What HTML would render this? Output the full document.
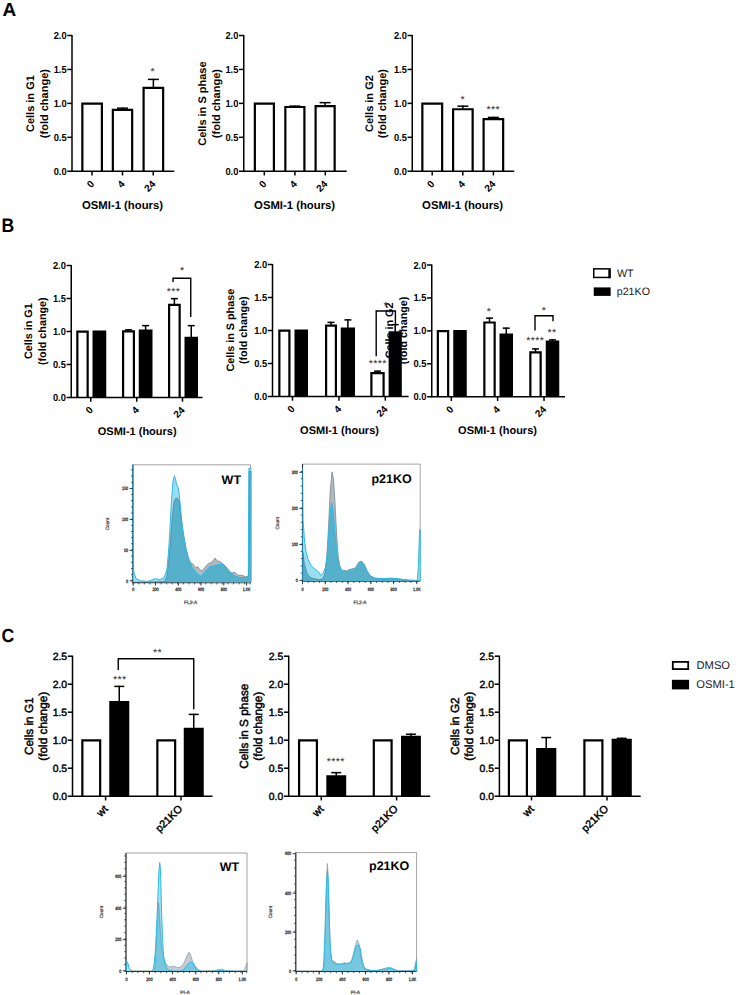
<!DOCTYPE html>
<html><head><meta charset="utf-8"><title>Figure</title>
<style>
html,body{margin:0;padding:0;background:#fff;}
svg{display:block;font-family:"Liberation Sans", sans-serif;text-rendering:geometricPrecision;}
</style></head><body>
<svg width="738" height="995" viewBox="0 0 738 995">
<rect x="0" y="0" width="738" height="995" fill="#fff"/>
<text x="2.40" y="15.70" font-size="19" font-weight="bold" text-anchor="start" fill="#000">A</text>
<text x="0" y="0" font-size="19.5" font-weight="bold" text-anchor="start" fill="#000" transform="translate(1.40 232.20) scale(0.9 1)">B</text>
<text x="0" y="0" font-size="19" font-weight="bold" text-anchor="start" fill="#000" transform="translate(1.50 642.20) scale(0.93 1)">C</text>
<path d="M82.35 171.25 V103.57 H101.90 V171.25" fill="#fff" stroke="#000" stroke-width="2.2"/>
<line x1="122.50" y1="109.31" x2="122.50" y2="107.50" stroke="#000" stroke-width="1.5"/>
<line x1="117.00" y1="108.15" x2="128.00" y2="108.15" stroke="#000" stroke-width="1.5"/>
<path d="M112.85 171.25 V109.91 H132.15 V171.25" fill="#fff" stroke="#000" stroke-width="2.2"/>
<line x1="153.38" y1="87.31" x2="153.38" y2="78.75" stroke="#000" stroke-width="1.5"/>
<line x1="147.88" y1="79.40" x2="158.88" y2="79.40" stroke="#000" stroke-width="1.5"/>
<path d="M143.60 171.25 V87.91 H163.15 V171.25" fill="#fff" stroke="#000" stroke-width="2.2"/>
<line x1="72.00" y1="35.00" x2="72.00" y2="171.75" stroke="#000" stroke-width="1.5"/>
<line x1="71.50" y1="171.25" x2="174.25" y2="171.25" stroke="#000" stroke-width="1.5"/>
<line x1="67.30" y1="35.50" x2="72.00" y2="35.50" stroke="#000" stroke-width="1.5"/>
<text x="0" y="0" font-size="10.2" font-weight="bold" text-anchor="end" fill="#000" transform="translate(66.60 39.05) scale(0.91 1)">2.0</text>
<line x1="67.30" y1="69.44" x2="72.00" y2="69.44" stroke="#000" stroke-width="1.5"/>
<text x="0" y="0" font-size="10.2" font-weight="bold" text-anchor="end" fill="#000" transform="translate(66.60 72.99) scale(0.91 1)">1.5</text>
<line x1="67.30" y1="103.38" x2="72.00" y2="103.38" stroke="#000" stroke-width="1.5"/>
<text x="0" y="0" font-size="10.2" font-weight="bold" text-anchor="end" fill="#000" transform="translate(66.60 106.92) scale(0.91 1)">1.0</text>
<line x1="67.30" y1="137.31" x2="72.00" y2="137.31" stroke="#000" stroke-width="1.5"/>
<text x="0" y="0" font-size="10.2" font-weight="bold" text-anchor="end" fill="#000" transform="translate(66.60 140.86) scale(0.91 1)">0.5</text>
<line x1="67.30" y1="171.25" x2="72.00" y2="171.25" stroke="#000" stroke-width="1.5"/>
<text x="0" y="0" font-size="10.2" font-weight="bold" text-anchor="end" fill="#000" transform="translate(66.60 174.80) scale(0.91 1)">0.0</text>
<line x1="92.00" y1="171.25" x2="92.00" y2="175.45" stroke="#000" stroke-width="1.5"/>
<line x1="122.50" y1="171.25" x2="122.50" y2="175.45" stroke="#000" stroke-width="1.5"/>
<line x1="153.25" y1="171.25" x2="153.25" y2="175.45" stroke="#000" stroke-width="1.5"/>
<text x="94.90" y="184.55" font-size="10" font-weight="bold" text-anchor="end" fill="#000" transform="rotate(-45 94.90 184.55)">0</text>
<text x="125.40" y="184.55" font-size="10" font-weight="bold" text-anchor="end" fill="#000" transform="rotate(-45 125.40 184.55)">4</text>
<text x="156.15" y="184.55" font-size="10" font-weight="bold" text-anchor="end" fill="#000" transform="rotate(-45 156.15 184.55)">24</text>
<text x="122.50" y="208.65" font-size="11.3" font-weight="bold" text-anchor="middle" fill="#000">OSMI-1 (hours)</text>
<text x="34.30" y="103.60" font-size="11" font-weight="bold" text-anchor="middle" fill="#000" transform="rotate(-90 34.30 103.60)">Cells in G1</text>
<text x="48.00" y="103.60" font-size="11" font-weight="bold" text-anchor="middle" fill="#000" transform="rotate(-90 48.00 103.60)">(fold change)</text>
<text x="152.70" y="75.01" font-size="10.6" font-weight="normal" text-anchor="middle" fill="#2a2a2a" letter-spacing="0.35">*</text>
<path d="M254.85 171.25 V103.57 H273.90 V171.25" fill="#fff" stroke="#000" stroke-width="2.2"/>
<line x1="294.88" y1="106.39" x2="294.88" y2="105.50" stroke="#000" stroke-width="1.5"/>
<line x1="289.38" y1="106.15" x2="300.38" y2="106.15" stroke="#000" stroke-width="1.5"/>
<path d="M285.35 171.25 V106.99 H304.40 V171.25" fill="#fff" stroke="#000" stroke-width="2.2"/>
<line x1="325.12" y1="105.57" x2="325.12" y2="102.00" stroke="#000" stroke-width="1.5"/>
<line x1="319.62" y1="102.65" x2="330.62" y2="102.65" stroke="#000" stroke-width="1.5"/>
<path d="M315.60 171.25 V106.17 H334.65 V171.25" fill="#fff" stroke="#000" stroke-width="2.2"/>
<line x1="243.75" y1="35.00" x2="243.75" y2="171.75" stroke="#000" stroke-width="1.5"/>
<line x1="243.25" y1="171.25" x2="346.75" y2="171.25" stroke="#000" stroke-width="1.5"/>
<line x1="239.05" y1="35.50" x2="243.75" y2="35.50" stroke="#000" stroke-width="1.5"/>
<text x="0" y="0" font-size="10.2" font-weight="bold" text-anchor="end" fill="#000" transform="translate(238.35 39.05) scale(0.91 1)">2.0</text>
<line x1="239.05" y1="69.44" x2="243.75" y2="69.44" stroke="#000" stroke-width="1.5"/>
<text x="0" y="0" font-size="10.2" font-weight="bold" text-anchor="end" fill="#000" transform="translate(238.35 72.99) scale(0.91 1)">1.5</text>
<line x1="239.05" y1="103.38" x2="243.75" y2="103.38" stroke="#000" stroke-width="1.5"/>
<text x="0" y="0" font-size="10.2" font-weight="bold" text-anchor="end" fill="#000" transform="translate(238.35 106.92) scale(0.91 1)">1.0</text>
<line x1="239.05" y1="137.31" x2="243.75" y2="137.31" stroke="#000" stroke-width="1.5"/>
<text x="0" y="0" font-size="10.2" font-weight="bold" text-anchor="end" fill="#000" transform="translate(238.35 140.86) scale(0.91 1)">0.5</text>
<line x1="239.05" y1="171.25" x2="243.75" y2="171.25" stroke="#000" stroke-width="1.5"/>
<text x="0" y="0" font-size="10.2" font-weight="bold" text-anchor="end" fill="#000" transform="translate(238.35 174.80) scale(0.91 1)">0.0</text>
<line x1="264.30" y1="171.25" x2="264.30" y2="175.45" stroke="#000" stroke-width="1.5"/>
<line x1="294.90" y1="171.25" x2="294.90" y2="175.45" stroke="#000" stroke-width="1.5"/>
<line x1="325.30" y1="171.25" x2="325.30" y2="175.45" stroke="#000" stroke-width="1.5"/>
<text x="267.20" y="184.55" font-size="10" font-weight="bold" text-anchor="end" fill="#000" transform="rotate(-45 267.20 184.55)">0</text>
<text x="297.80" y="184.55" font-size="10" font-weight="bold" text-anchor="end" fill="#000" transform="rotate(-45 297.80 184.55)">4</text>
<text x="328.20" y="184.55" font-size="10" font-weight="bold" text-anchor="end" fill="#000" transform="rotate(-45 328.20 184.55)">24</text>
<text x="294.60" y="208.65" font-size="11.3" font-weight="bold" text-anchor="middle" fill="#000">OSMI-1 (hours)</text>
<text x="206.05" y="103.60" font-size="11" font-weight="bold" text-anchor="middle" fill="#000" transform="rotate(-90 206.05 103.60)">Cells in S phase</text>
<text x="219.75" y="103.60" font-size="11" font-weight="bold" text-anchor="middle" fill="#000" transform="rotate(-90 219.75 103.60)">(fold change)</text>
<path d="M422.35 171.25 V103.57 H442.15 V171.25" fill="#fff" stroke="#000" stroke-width="2.2"/>
<line x1="462.88" y1="108.63" x2="462.88" y2="105.50" stroke="#000" stroke-width="1.5"/>
<line x1="457.38" y1="106.15" x2="468.38" y2="106.15" stroke="#000" stroke-width="1.5"/>
<path d="M453.10 171.25 V109.23 H472.65 V171.25" fill="#fff" stroke="#000" stroke-width="2.2"/>
<line x1="493.38" y1="118.54" x2="493.38" y2="116.75" stroke="#000" stroke-width="1.5"/>
<line x1="487.88" y1="117.40" x2="498.88" y2="117.40" stroke="#000" stroke-width="1.5"/>
<path d="M483.60 171.25 V119.14 H503.15 V171.25" fill="#fff" stroke="#000" stroke-width="2.2"/>
<line x1="412.25" y1="35.00" x2="412.25" y2="171.75" stroke="#000" stroke-width="1.5"/>
<line x1="411.75" y1="171.25" x2="514.25" y2="171.25" stroke="#000" stroke-width="1.5"/>
<line x1="407.55" y1="35.50" x2="412.25" y2="35.50" stroke="#000" stroke-width="1.5"/>
<text x="0" y="0" font-size="10.2" font-weight="bold" text-anchor="end" fill="#000" transform="translate(406.85 39.05) scale(0.91 1)">2.0</text>
<line x1="407.55" y1="69.44" x2="412.25" y2="69.44" stroke="#000" stroke-width="1.5"/>
<text x="0" y="0" font-size="10.2" font-weight="bold" text-anchor="end" fill="#000" transform="translate(406.85 72.99) scale(0.91 1)">1.5</text>
<line x1="407.55" y1="103.38" x2="412.25" y2="103.38" stroke="#000" stroke-width="1.5"/>
<text x="0" y="0" font-size="10.2" font-weight="bold" text-anchor="end" fill="#000" transform="translate(406.85 106.92) scale(0.91 1)">1.0</text>
<line x1="407.55" y1="137.31" x2="412.25" y2="137.31" stroke="#000" stroke-width="1.5"/>
<text x="0" y="0" font-size="10.2" font-weight="bold" text-anchor="end" fill="#000" transform="translate(406.85 140.86) scale(0.91 1)">0.5</text>
<line x1="407.55" y1="171.25" x2="412.25" y2="171.25" stroke="#000" stroke-width="1.5"/>
<text x="0" y="0" font-size="10.2" font-weight="bold" text-anchor="end" fill="#000" transform="translate(406.85 174.80) scale(0.91 1)">0.0</text>
<line x1="432.20" y1="171.25" x2="432.20" y2="175.45" stroke="#000" stroke-width="1.5"/>
<line x1="462.80" y1="171.25" x2="462.80" y2="175.45" stroke="#000" stroke-width="1.5"/>
<line x1="493.40" y1="171.25" x2="493.40" y2="175.45" stroke="#000" stroke-width="1.5"/>
<text x="435.10" y="184.55" font-size="10" font-weight="bold" text-anchor="end" fill="#000" transform="rotate(-45 435.10 184.55)">0</text>
<text x="465.70" y="184.55" font-size="10" font-weight="bold" text-anchor="end" fill="#000" transform="rotate(-45 465.70 184.55)">4</text>
<text x="496.30" y="184.55" font-size="10" font-weight="bold" text-anchor="end" fill="#000" transform="rotate(-45 496.30 184.55)">24</text>
<text x="462.60" y="208.65" font-size="11.3" font-weight="bold" text-anchor="middle" fill="#000">OSMI-1 (hours)</text>
<text x="372.75" y="103.60" font-size="11" font-weight="bold" text-anchor="middle" fill="#000" transform="rotate(-90 372.75 103.60)">Cells in G2</text>
<text x="386.45" y="103.60" font-size="11" font-weight="bold" text-anchor="middle" fill="#000" transform="rotate(-90 386.45 103.60)">(fold change)</text>
<text x="462.70" y="102.51" font-size="10.6" font-weight="normal" text-anchor="middle" fill="#2a2a2a" letter-spacing="0.35">*</text>
<text x="493.20" y="113.01" font-size="10.6" font-weight="normal" text-anchor="middle" fill="#2a2a2a" letter-spacing="0.35">***</text>
<path d="M437.85 396.75 V331.08 H448.15 V396.75" fill="#fff" stroke="#000" stroke-width="2.2"/>
<path d="M454.35 396.75 V331.08 H465.65 V396.75" fill="#000" stroke="#000" stroke-width="2.2"/>
<line x1="489.50" y1="321.89" x2="489.50" y2="317.50" stroke="#000" stroke-width="1.5"/>
<line x1="486.00" y1="318.15" x2="493.00" y2="318.15" stroke="#000" stroke-width="1.5"/>
<path d="M484.35 396.75 V322.49 H494.65 V396.75" fill="#fff" stroke="#000" stroke-width="2.2"/>
<line x1="506.25" y1="333.88" x2="506.25" y2="327.50" stroke="#000" stroke-width="1.5"/>
<line x1="502.75" y1="328.15" x2="509.75" y2="328.15" stroke="#000" stroke-width="1.5"/>
<path d="M500.60 396.75 V334.48 H511.90 V396.75" fill="#000" stroke="#000" stroke-width="2.2"/>
<line x1="535.50" y1="351.80" x2="535.50" y2="348.25" stroke="#000" stroke-width="1.5"/>
<line x1="532.00" y1="348.90" x2="539.00" y2="348.90" stroke="#000" stroke-width="1.5"/>
<path d="M530.35 396.75 V352.40 H540.65 V396.75" fill="#fff" stroke="#000" stroke-width="2.2"/>
<line x1="552.50" y1="341.12" x2="552.50" y2="339.25" stroke="#000" stroke-width="1.5"/>
<line x1="549.00" y1="339.90" x2="556.00" y2="339.90" stroke="#000" stroke-width="1.5"/>
<path d="M546.85 396.75 V341.72 H558.15 V396.75" fill="#000" stroke="#000" stroke-width="2.2"/>
<line x1="431.75" y1="264.50" x2="431.75" y2="397.25" stroke="#000" stroke-width="1.5"/>
<line x1="431.25" y1="396.75" x2="565.00" y2="396.75" stroke="#000" stroke-width="1.5"/>
<line x1="427.05" y1="265.00" x2="431.75" y2="265.00" stroke="#000" stroke-width="1.5"/>
<text x="0" y="0" font-size="10.2" font-weight="bold" text-anchor="end" fill="#000" transform="translate(426.35 268.55) scale(0.91 1)">2.0</text>
<line x1="427.05" y1="297.94" x2="431.75" y2="297.94" stroke="#000" stroke-width="1.5"/>
<text x="0" y="0" font-size="10.2" font-weight="bold" text-anchor="end" fill="#000" transform="translate(426.35 301.49) scale(0.91 1)">1.5</text>
<line x1="427.05" y1="330.88" x2="431.75" y2="330.88" stroke="#000" stroke-width="1.5"/>
<text x="0" y="0" font-size="10.2" font-weight="bold" text-anchor="end" fill="#000" transform="translate(426.35 334.43) scale(0.91 1)">1.0</text>
<line x1="427.05" y1="363.81" x2="431.75" y2="363.81" stroke="#000" stroke-width="1.5"/>
<text x="0" y="0" font-size="10.2" font-weight="bold" text-anchor="end" fill="#000" transform="translate(426.35 367.36) scale(0.91 1)">0.5</text>
<line x1="427.05" y1="396.75" x2="431.75" y2="396.75" stroke="#000" stroke-width="1.5"/>
<text x="0" y="0" font-size="10.2" font-weight="bold" text-anchor="end" fill="#000" transform="translate(426.35 400.30) scale(0.91 1)">0.0</text>
<line x1="451.30" y1="396.75" x2="451.30" y2="400.95" stroke="#000" stroke-width="1.5"/>
<line x1="497.60" y1="396.75" x2="497.60" y2="400.95" stroke="#000" stroke-width="1.5"/>
<line x1="544.00" y1="396.75" x2="544.00" y2="400.95" stroke="#000" stroke-width="1.5"/>
<text x="454.30" y="409.95" font-size="10" font-weight="bold" text-anchor="end" fill="#000" transform="rotate(-45 454.30 409.95)">0</text>
<text x="500.60" y="409.95" font-size="10" font-weight="bold" text-anchor="end" fill="#000" transform="rotate(-45 500.60 409.95)">4</text>
<text x="547.00" y="409.95" font-size="10" font-weight="bold" text-anchor="end" fill="#000" transform="rotate(-45 547.00 409.95)">24</text>
<text x="497.50" y="434.15" font-size="11.0" font-weight="bold" text-anchor="middle" fill="#000">OSMI-1 (hours)</text>
<text x="393.00" y="330.45" font-size="10.8" font-weight="bold" text-anchor="middle" fill="#000" transform="rotate(-90 393.00 330.45)">Cells in G2</text>
<text x="407.40" y="330.45" font-size="10.8" font-weight="bold" text-anchor="middle" fill="#000" transform="rotate(-90 407.40 330.45)">(fold change)</text>
<path d="M77.35 397.50 V331.70 H87.65 V397.50" fill="#fff" stroke="#000" stroke-width="2.2"/>
<path d="M93.60 397.50 V331.70 H105.15 V397.50" fill="#000" stroke="#000" stroke-width="2.2"/>
<line x1="128.50" y1="330.68" x2="128.50" y2="329.20" stroke="#000" stroke-width="1.5"/>
<line x1="125.00" y1="329.85" x2="132.00" y2="329.85" stroke="#000" stroke-width="1.5"/>
<path d="M123.10 397.50 V331.28 H133.90 V397.50" fill="#fff" stroke="#000" stroke-width="2.2"/>
<line x1="145.62" y1="330.02" x2="145.62" y2="325.00" stroke="#000" stroke-width="1.5"/>
<line x1="142.12" y1="325.65" x2="149.12" y2="325.65" stroke="#000" stroke-width="1.5"/>
<path d="M139.85 397.50 V330.62 H151.40 V397.50" fill="#000" stroke="#000" stroke-width="2.2"/>
<line x1="174.38" y1="304.28" x2="174.38" y2="298.00" stroke="#000" stroke-width="1.5"/>
<line x1="170.88" y1="298.65" x2="177.88" y2="298.65" stroke="#000" stroke-width="1.5"/>
<path d="M169.10 397.50 V304.88 H179.65 V397.50" fill="#fff" stroke="#000" stroke-width="2.2"/>
<line x1="191.25" y1="337.28" x2="191.25" y2="325.00" stroke="#000" stroke-width="1.5"/>
<line x1="187.75" y1="325.65" x2="194.75" y2="325.65" stroke="#000" stroke-width="1.5"/>
<path d="M185.60 397.50 V337.88 H196.90 V397.50" fill="#000" stroke="#000" stroke-width="2.2"/>
<line x1="71.25" y1="265.00" x2="71.25" y2="398.00" stroke="#000" stroke-width="1.5"/>
<line x1="70.75" y1="397.50" x2="202.50" y2="397.50" stroke="#000" stroke-width="1.5"/>
<line x1="66.55" y1="265.50" x2="71.25" y2="265.50" stroke="#000" stroke-width="1.5"/>
<text x="0" y="0" font-size="10.2" font-weight="bold" text-anchor="end" fill="#000" transform="translate(65.85 269.05) scale(0.91 1)">2.0</text>
<line x1="66.55" y1="298.50" x2="71.25" y2="298.50" stroke="#000" stroke-width="1.5"/>
<text x="0" y="0" font-size="10.2" font-weight="bold" text-anchor="end" fill="#000" transform="translate(65.85 302.05) scale(0.91 1)">1.5</text>
<line x1="66.55" y1="331.50" x2="71.25" y2="331.50" stroke="#000" stroke-width="1.5"/>
<text x="0" y="0" font-size="10.2" font-weight="bold" text-anchor="end" fill="#000" transform="translate(65.85 335.05) scale(0.91 1)">1.0</text>
<line x1="66.55" y1="364.50" x2="71.25" y2="364.50" stroke="#000" stroke-width="1.5"/>
<text x="0" y="0" font-size="10.2" font-weight="bold" text-anchor="end" fill="#000" transform="translate(65.85 368.05) scale(0.91 1)">0.5</text>
<line x1="66.55" y1="397.50" x2="71.25" y2="397.50" stroke="#000" stroke-width="1.5"/>
<text x="0" y="0" font-size="10.2" font-weight="bold" text-anchor="end" fill="#000" transform="translate(65.85 401.05) scale(0.91 1)">0.0</text>
<line x1="90.75" y1="397.50" x2="90.75" y2="401.70" stroke="#000" stroke-width="1.5"/>
<line x1="136.75" y1="397.50" x2="136.75" y2="401.70" stroke="#000" stroke-width="1.5"/>
<line x1="182.50" y1="397.50" x2="182.50" y2="401.70" stroke="#000" stroke-width="1.5"/>
<text x="93.75" y="410.70" font-size="10" font-weight="bold" text-anchor="end" fill="#000" transform="rotate(-45 93.75 410.70)">0</text>
<text x="139.75" y="410.70" font-size="10" font-weight="bold" text-anchor="end" fill="#000" transform="rotate(-45 139.75 410.70)">4</text>
<text x="185.50" y="410.70" font-size="10" font-weight="bold" text-anchor="end" fill="#000" transform="rotate(-45 185.50 410.70)">24</text>
<text x="137.20" y="434.90" font-size="11.0" font-weight="bold" text-anchor="middle" fill="#000">OSMI-1 (hours)</text>
<text x="32.10" y="331.20" font-size="10.8" font-weight="bold" text-anchor="middle" fill="#000" transform="rotate(-90 32.10 331.20)">Cells in G1</text>
<text x="46.20" y="331.20" font-size="10.8" font-weight="bold" text-anchor="middle" fill="#000" transform="rotate(-90 46.20 331.20)">(fold change)</text>
<path d="M279.35 396.50 V330.70 H289.40 V396.50" fill="#fff" stroke="#000" stroke-width="2.2"/>
<path d="M295.60 396.50 V330.70 H306.90 V396.50" fill="#000" stroke="#000" stroke-width="2.2"/>
<line x1="331.00" y1="325.06" x2="331.00" y2="321.75" stroke="#000" stroke-width="1.5"/>
<line x1="327.50" y1="322.40" x2="334.50" y2="322.40" stroke="#000" stroke-width="1.5"/>
<path d="M326.10 396.50 V325.66 H335.90 V396.50" fill="#fff" stroke="#000" stroke-width="2.2"/>
<line x1="347.88" y1="328.03" x2="347.88" y2="319.25" stroke="#000" stroke-width="1.5"/>
<line x1="344.38" y1="319.90" x2="351.38" y2="319.90" stroke="#000" stroke-width="1.5"/>
<path d="M341.85 396.50 V328.63 H353.90 V396.50" fill="#000" stroke="#000" stroke-width="2.2"/>
<line x1="377.50" y1="372.58" x2="377.50" y2="370.50" stroke="#000" stroke-width="1.5"/>
<line x1="374.00" y1="371.15" x2="381.00" y2="371.15" stroke="#000" stroke-width="1.5"/>
<path d="M371.40 396.50 V373.18 H383.60 V396.50" fill="#fff" stroke="#000" stroke-width="2.2"/>
<line x1="395.20" y1="331.66" x2="395.20" y2="324.00" stroke="#000" stroke-width="1.5"/>
<line x1="391.70" y1="324.65" x2="398.70" y2="324.65" stroke="#000" stroke-width="1.5"/>
<path d="M389.70 396.50 V332.26 H400.70 V396.50" fill="#000" stroke="#000" stroke-width="2.2"/>
<line x1="272.50" y1="264.00" x2="272.50" y2="397.00" stroke="#000" stroke-width="1.5"/>
<line x1="272.00" y1="396.50" x2="408.60" y2="396.50" stroke="#000" stroke-width="1.5"/>
<line x1="267.80" y1="264.50" x2="272.50" y2="264.50" stroke="#000" stroke-width="1.5"/>
<text x="0" y="0" font-size="10.2" font-weight="bold" text-anchor="end" fill="#000" transform="translate(267.10 268.05) scale(0.91 1)">2.0</text>
<line x1="267.80" y1="297.50" x2="272.50" y2="297.50" stroke="#000" stroke-width="1.5"/>
<text x="0" y="0" font-size="10.2" font-weight="bold" text-anchor="end" fill="#000" transform="translate(267.10 301.05) scale(0.91 1)">1.5</text>
<line x1="267.80" y1="330.50" x2="272.50" y2="330.50" stroke="#000" stroke-width="1.5"/>
<text x="0" y="0" font-size="10.2" font-weight="bold" text-anchor="end" fill="#000" transform="translate(267.10 334.05) scale(0.91 1)">1.0</text>
<line x1="267.80" y1="363.50" x2="272.50" y2="363.50" stroke="#000" stroke-width="1.5"/>
<text x="0" y="0" font-size="10.2" font-weight="bold" text-anchor="end" fill="#000" transform="translate(267.10 367.05) scale(0.91 1)">0.5</text>
<line x1="267.80" y1="396.50" x2="272.50" y2="396.50" stroke="#000" stroke-width="1.5"/>
<text x="0" y="0" font-size="10.2" font-weight="bold" text-anchor="end" fill="#000" transform="translate(267.10 400.05) scale(0.91 1)">0.0</text>
<line x1="292.50" y1="396.50" x2="292.50" y2="400.70" stroke="#000" stroke-width="1.5"/>
<line x1="339.00" y1="396.50" x2="339.00" y2="400.70" stroke="#000" stroke-width="1.5"/>
<line x1="385.30" y1="396.50" x2="385.30" y2="400.70" stroke="#000" stroke-width="1.5"/>
<text x="295.50" y="409.70" font-size="10" font-weight="bold" text-anchor="end" fill="#000" transform="rotate(-45 295.50 409.70)">0</text>
<text x="342.00" y="409.70" font-size="10" font-weight="bold" text-anchor="end" fill="#000" transform="rotate(-45 342.00 409.70)">4</text>
<text x="388.30" y="409.70" font-size="10" font-weight="bold" text-anchor="end" fill="#000" transform="rotate(-45 388.30 409.70)">24</text>
<text x="339.50" y="433.90" font-size="11.0" font-weight="bold" text-anchor="middle" fill="#000">OSMI-1 (hours)</text>
<text x="233.90" y="330.20" font-size="10.8" font-weight="bold" text-anchor="middle" fill="#000" transform="rotate(-90 233.90 330.20)">Cells in S phase</text>
<text x="247.20" y="330.20" font-size="10.8" font-weight="bold" text-anchor="middle" fill="#000" transform="rotate(-90 247.20 330.20)">(fold change)</text>
<path d="M173.00 282.00 V278.25 H190.75 V317.00" fill="none" stroke="#000" stroke-width="1.4"/>
<text x="182.20" y="274.26" font-size="10.6" font-weight="normal" text-anchor="middle" fill="#2a2a2a" letter-spacing="0.35">*</text>
<text x="173.50" y="294.76" font-size="10.6" font-weight="normal" text-anchor="middle" fill="#2a2a2a" letter-spacing="0.35">***</text>
<path d="M376.20 356.25 V311.00 H395.40 V324.00" fill="none" stroke="#000" stroke-width="1.4"/>
<text x="385.70" y="308.51" font-size="10.6" font-weight="normal" text-anchor="middle" fill="#2a2a2a" letter-spacing="0.35">*</text>
<text x="377.70" y="367.26" font-size="10.6" font-weight="normal" text-anchor="middle" fill="#2a2a2a" letter-spacing="0.35">****</text>
<path d="M535.00 330.50 V315.75 H553.00 V321.25" fill="none" stroke="#000" stroke-width="1.4"/>
<text x="543.95" y="313.51" font-size="10.6" font-weight="normal" text-anchor="middle" fill="#2a2a2a" letter-spacing="0.35">*</text>
<text x="551.95" y="335.51" font-size="10.6" font-weight="normal" text-anchor="middle" fill="#2a2a2a" letter-spacing="0.35">**</text>
<text x="535.20" y="344.26" font-size="10.6" font-weight="normal" text-anchor="middle" fill="#2a2a2a" letter-spacing="0.35">****</text>
<text x="488.95" y="314.76" font-size="10.6" font-weight="normal" text-anchor="middle" fill="#2a2a2a" letter-spacing="0.35">*</text>
<rect x="593.75" y="268.85" width="16.2" height="8.6" fill="#fff" stroke="#000" stroke-width="1.5"/>
<rect x="593.75" y="287.4" width="16.9" height="8.5" fill="#000"/>
<text x="616.90" y="277.20" font-size="10.8" font-weight="normal" text-anchor="start" fill="#222">WT</text>
<rect x="608.3" y="269.6" width="2.3" height="8.6" fill="#000"/>
<text x="616.70" y="295.20" font-size="10.7" font-weight="normal" text-anchor="start" fill="#222">p21KO</text>
<path d="M82.35 796.20 V740.40 H100.15 V796.20" fill="#fff" stroke="#000" stroke-width="2.2"/>
<line x1="119.25" y1="701.50" x2="119.25" y2="685.75" stroke="#000" stroke-width="1.5"/>
<line x1="114.25" y1="686.40" x2="124.25" y2="686.40" stroke="#000" stroke-width="1.5"/>
<path d="M110.35 796.20 V702.10 H128.15 V796.20" fill="#000" stroke="#000" stroke-width="2.2"/>
<path d="M157.35 796.20 V740.40 H175.15 V796.20" fill="#fff" stroke="#000" stroke-width="2.2"/>
<line x1="193.75" y1="728.21" x2="193.75" y2="713.75" stroke="#000" stroke-width="1.5"/>
<line x1="188.75" y1="714.40" x2="198.75" y2="714.40" stroke="#000" stroke-width="1.5"/>
<path d="M184.85 796.20 V728.81 H202.65 V796.20" fill="#000" stroke="#000" stroke-width="2.2"/>
<line x1="72.50" y1="655.70" x2="72.50" y2="796.70" stroke="#000" stroke-width="1.5"/>
<line x1="72.00" y1="796.20" x2="212.50" y2="796.20" stroke="#000" stroke-width="1.5"/>
<line x1="67.80" y1="656.20" x2="72.50" y2="656.20" stroke="#000" stroke-width="1.5"/>
<text x="67.10" y="659.75" font-size="10.4" font-weight="normal" text-anchor="end" fill="#000" stroke="#000" stroke-width="0.45">2.5</text>
<line x1="67.80" y1="684.20" x2="72.50" y2="684.20" stroke="#000" stroke-width="1.5"/>
<text x="67.10" y="687.75" font-size="10.4" font-weight="normal" text-anchor="end" fill="#000" stroke="#000" stroke-width="0.45">2.0</text>
<line x1="67.80" y1="712.20" x2="72.50" y2="712.20" stroke="#000" stroke-width="1.5"/>
<text x="67.10" y="715.75" font-size="10.4" font-weight="normal" text-anchor="end" fill="#000" stroke="#000" stroke-width="0.45">1.5</text>
<line x1="67.80" y1="740.20" x2="72.50" y2="740.20" stroke="#000" stroke-width="1.5"/>
<text x="67.10" y="743.75" font-size="10.4" font-weight="normal" text-anchor="end" fill="#000" stroke="#000" stroke-width="0.45">1.0</text>
<line x1="67.80" y1="768.20" x2="72.50" y2="768.20" stroke="#000" stroke-width="1.5"/>
<text x="67.10" y="771.75" font-size="10.4" font-weight="normal" text-anchor="end" fill="#000" stroke="#000" stroke-width="0.45">0.5</text>
<line x1="67.80" y1="796.20" x2="72.50" y2="796.20" stroke="#000" stroke-width="1.5"/>
<text x="67.10" y="799.75" font-size="10.4" font-weight="normal" text-anchor="end" fill="#000" stroke="#000" stroke-width="0.45">0.0</text>
<line x1="105.60" y1="796.20" x2="105.60" y2="800.40" stroke="#000" stroke-width="1.5"/>
<line x1="181.00" y1="796.20" x2="181.00" y2="800.40" stroke="#000" stroke-width="1.5"/>
<text x="108.60" y="809.70" font-size="10.6" font-weight="normal" text-anchor="end" fill="#000" transform="rotate(-45 108.60 809.70)" stroke="#000" stroke-width="0.45">wt</text>
<text x="183.00" y="809.40" font-size="10.6" font-weight="normal" text-anchor="end" fill="#000" transform="rotate(-45 183.00 809.40)" stroke="#000" stroke-width="0.45">p21KO</text>
<text x="32.60" y="726.20" font-size="11.8" font-weight="normal" text-anchor="middle" fill="#000" transform="rotate(-90 32.60 726.20)" stroke="#000" stroke-width="0.45">Cells in G1</text>
<text x="46.60" y="726.20" font-size="11.8" font-weight="normal" text-anchor="middle" fill="#000" transform="rotate(-90 46.60 726.20)" stroke="#000" stroke-width="0.45">(fold change)</text>
<path d="M299.10 796.20 V740.40 H316.90 V796.20" fill="#fff" stroke="#000" stroke-width="2.2"/>
<line x1="336.25" y1="775.64" x2="336.25" y2="772.00" stroke="#000" stroke-width="1.5"/>
<line x1="331.25" y1="772.65" x2="341.25" y2="772.65" stroke="#000" stroke-width="1.5"/>
<path d="M327.40 796.20 V776.24 H345.10 V796.20" fill="#000" stroke="#000" stroke-width="2.2"/>
<path d="M373.80 796.20 V740.40 H391.60 V796.20" fill="#fff" stroke="#000" stroke-width="2.2"/>
<line x1="410.95" y1="736.22" x2="410.95" y2="733.60" stroke="#000" stroke-width="1.5"/>
<line x1="405.95" y1="734.25" x2="415.95" y2="734.25" stroke="#000" stroke-width="1.5"/>
<path d="M402.10 796.20 V736.82 H419.80 V796.20" fill="#000" stroke="#000" stroke-width="2.2"/>
<line x1="288.70" y1="655.70" x2="288.70" y2="796.70" stroke="#000" stroke-width="1.5"/>
<line x1="288.20" y1="796.20" x2="430.20" y2="796.20" stroke="#000" stroke-width="1.5"/>
<line x1="284.00" y1="656.20" x2="288.70" y2="656.20" stroke="#000" stroke-width="1.5"/>
<text x="283.30" y="659.75" font-size="10.4" font-weight="normal" text-anchor="end" fill="#000" stroke="#000" stroke-width="0.45">2.5</text>
<line x1="284.00" y1="684.20" x2="288.70" y2="684.20" stroke="#000" stroke-width="1.5"/>
<text x="283.30" y="687.75" font-size="10.4" font-weight="normal" text-anchor="end" fill="#000" stroke="#000" stroke-width="0.45">2.0</text>
<line x1="284.00" y1="712.20" x2="288.70" y2="712.20" stroke="#000" stroke-width="1.5"/>
<text x="283.30" y="715.75" font-size="10.4" font-weight="normal" text-anchor="end" fill="#000" stroke="#000" stroke-width="0.45">1.5</text>
<line x1="284.00" y1="740.20" x2="288.70" y2="740.20" stroke="#000" stroke-width="1.5"/>
<text x="283.30" y="743.75" font-size="10.4" font-weight="normal" text-anchor="end" fill="#000" stroke="#000" stroke-width="0.45">1.0</text>
<line x1="284.00" y1="768.20" x2="288.70" y2="768.20" stroke="#000" stroke-width="1.5"/>
<text x="283.30" y="771.75" font-size="10.4" font-weight="normal" text-anchor="end" fill="#000" stroke="#000" stroke-width="0.45">0.5</text>
<line x1="284.00" y1="796.20" x2="288.70" y2="796.20" stroke="#000" stroke-width="1.5"/>
<text x="283.30" y="799.75" font-size="10.4" font-weight="normal" text-anchor="end" fill="#000" stroke="#000" stroke-width="0.45">0.0</text>
<line x1="321.30" y1="796.20" x2="321.30" y2="800.40" stroke="#000" stroke-width="1.5"/>
<line x1="396.60" y1="796.20" x2="396.60" y2="800.40" stroke="#000" stroke-width="1.5"/>
<text x="324.30" y="809.70" font-size="10.6" font-weight="normal" text-anchor="end" fill="#000" transform="rotate(-45 324.30 809.70)" stroke="#000" stroke-width="0.45">wt</text>
<text x="398.60" y="809.40" font-size="10.6" font-weight="normal" text-anchor="end" fill="#000" transform="rotate(-45 398.60 809.40)" stroke="#000" stroke-width="0.45">p21KO</text>
<text x="248.20" y="726.20" font-size="11.8" font-weight="normal" text-anchor="middle" fill="#000" transform="rotate(-90 248.20 726.20)" stroke="#000" stroke-width="0.45">Cells in S phase</text>
<text x="262.40" y="726.20" font-size="11.8" font-weight="normal" text-anchor="middle" fill="#000" transform="rotate(-90 262.40 726.20)" stroke="#000" stroke-width="0.45">(fold change)</text>
<path d="M508.90 796.20 V740.40 H526.90 V796.20" fill="#fff" stroke="#000" stroke-width="2.2"/>
<line x1="546.20" y1="748.54" x2="546.20" y2="736.90" stroke="#000" stroke-width="1.5"/>
<line x1="541.20" y1="737.55" x2="551.20" y2="737.55" stroke="#000" stroke-width="1.5"/>
<path d="M537.20 796.20 V749.14 H555.20 V796.20" fill="#000" stroke="#000" stroke-width="2.2"/>
<path d="M584.40 796.20 V740.40 H602.40 V796.20" fill="#fff" stroke="#000" stroke-width="2.2"/>
<line x1="621.70" y1="739.19" x2="621.70" y2="737.70" stroke="#000" stroke-width="1.5"/>
<line x1="616.70" y1="738.35" x2="626.70" y2="738.35" stroke="#000" stroke-width="1.5"/>
<path d="M612.70 796.20 V739.79 H630.70 V796.20" fill="#000" stroke="#000" stroke-width="2.2"/>
<line x1="499.40" y1="655.70" x2="499.40" y2="796.70" stroke="#000" stroke-width="1.5"/>
<line x1="498.90" y1="796.20" x2="640.70" y2="796.20" stroke="#000" stroke-width="1.5"/>
<line x1="494.70" y1="656.20" x2="499.40" y2="656.20" stroke="#000" stroke-width="1.5"/>
<text x="494.00" y="659.75" font-size="10.4" font-weight="normal" text-anchor="end" fill="#000" stroke="#000" stroke-width="0.45">2.5</text>
<line x1="494.70" y1="684.20" x2="499.40" y2="684.20" stroke="#000" stroke-width="1.5"/>
<text x="494.00" y="687.75" font-size="10.4" font-weight="normal" text-anchor="end" fill="#000" stroke="#000" stroke-width="0.45">2.0</text>
<line x1="494.70" y1="712.20" x2="499.40" y2="712.20" stroke="#000" stroke-width="1.5"/>
<text x="494.00" y="715.75" font-size="10.4" font-weight="normal" text-anchor="end" fill="#000" stroke="#000" stroke-width="0.45">1.5</text>
<line x1="494.70" y1="740.20" x2="499.40" y2="740.20" stroke="#000" stroke-width="1.5"/>
<text x="494.00" y="743.75" font-size="10.4" font-weight="normal" text-anchor="end" fill="#000" stroke="#000" stroke-width="0.45">1.0</text>
<line x1="494.70" y1="768.20" x2="499.40" y2="768.20" stroke="#000" stroke-width="1.5"/>
<text x="494.00" y="771.75" font-size="10.4" font-weight="normal" text-anchor="end" fill="#000" stroke="#000" stroke-width="0.45">0.5</text>
<line x1="494.70" y1="796.20" x2="499.40" y2="796.20" stroke="#000" stroke-width="1.5"/>
<text x="494.00" y="799.75" font-size="10.4" font-weight="normal" text-anchor="end" fill="#000" stroke="#000" stroke-width="0.45">0.0</text>
<line x1="531.50" y1="796.20" x2="531.50" y2="800.40" stroke="#000" stroke-width="1.5"/>
<line x1="607.00" y1="796.20" x2="607.00" y2="800.40" stroke="#000" stroke-width="1.5"/>
<text x="534.50" y="809.70" font-size="10.6" font-weight="normal" text-anchor="end" fill="#000" transform="rotate(-45 534.50 809.70)" stroke="#000" stroke-width="0.45">wt</text>
<text x="609.00" y="809.40" font-size="10.6" font-weight="normal" text-anchor="end" fill="#000" transform="rotate(-45 609.00 809.40)" stroke="#000" stroke-width="0.45">p21KO</text>
<text x="458.60" y="726.20" font-size="11.8" font-weight="normal" text-anchor="middle" fill="#000" transform="rotate(-90 458.60 726.20)" stroke="#000" stroke-width="0.45">Cells in G2</text>
<text x="472.60" y="726.20" font-size="11.8" font-weight="normal" text-anchor="middle" fill="#000" transform="rotate(-90 472.60 726.20)" stroke="#000" stroke-width="0.45">(fold change)</text>
<path d="M118.25 670.00 V658.75 H193.75 V709.25" fill="none" stroke="#000" stroke-width="1.4"/>
<text x="157.40" y="656.26" font-size="10.6" font-weight="normal" text-anchor="middle" fill="#2a2a2a" letter-spacing="0.35">**</text>
<text x="119.70" y="682.71" font-size="10.6" font-weight="normal" text-anchor="middle" fill="#2a2a2a" letter-spacing="0.35">***</text>
<text x="335.80" y="764.71" font-size="10.6" font-weight="normal" text-anchor="middle" fill="#2a2a2a" letter-spacing="0.35">****</text>
<rect x="672.8" y="661.9" width="15.4" height="7.2" fill="#fff" stroke="#000" stroke-width="1.8"/>
<rect x="671.9" y="679.8" width="17.2" height="9.6" fill="#000"/>
<text x="696.50" y="669.30" font-size="11.2" font-weight="normal" text-anchor="start" fill="#222">DMSO</text>
<text x="696.30" y="687.80" font-size="11.2" font-weight="normal" text-anchor="start" fill="#222">OSMI-1</text>
<path d="M132.8 464.8 H250.5 V582.6" fill="none" stroke="#9a9a9a" stroke-width="0.9"/>
<path d="M132.8 464.8 V582.6 H250.5" fill="none" stroke="#333" stroke-width="1.1"/>
<clipPath id="c1"><polygon points="132.8,582.5 132.8,463.7 133.1,561.2 133.8,572.1 136.0,578.6 140.4,580.7 146.9,581.4 151.2,580.3 155.5,578.6 159.9,579.7 164.2,577.5 166.8,569.9 168.5,552.6 170.1,526.5 171.6,499.2 173.1,480.6 174.4,475.8 175.5,478.8 176.6,484.9 178.3,487.5 179.4,495.8 180.9,512.9 182.4,528.1 184.1,538.3 185.9,548.4 188.5,558.6 192.4,567.7 196.7,573.2 201.1,576.4 205.4,571.0 209.7,566.7 214.1,565.6 218.4,564.5 222.7,564.5 227.1,567.7 231.4,573.2 235.7,576.4 240.1,577.5 246.6,577.5 248.3,576.8 248.6,520.0 248.9,468.4 251.4,468.4 251.4,582.9"/></clipPath>
<clipPath id="b1"><rect x="131.9" y="464.8" width="119.49999999999999" height="117.50000000000001"/></clipPath>
<g clip-path="url(#b1)">
<polygon points="132.8,582.5 164.2,581.6 166.8,576.8 168.5,563.4 170.5,541.7 172.2,517.9 174.0,501.6 175.5,498.4 177.6,498.4 179.4,501.6 181.5,520.0 183.7,535.2 185.9,548.2 188.0,556.9 190.2,562.3 193.5,564.5 195.6,567.7 197.8,566.7 200.0,569.9 202.1,571.0 205.4,566.7 208.6,563.4 211.9,562.3 215.1,558.0 217.3,561.2 219.5,561.2 222.7,563.4 224.9,565.6 228.2,572.1 231.4,573.2 234.7,572.1 237.9,575.3 242.2,575.3 245.5,576.8 248.5,576.0 248.9,520.0 249.1,471.3 251.4,471.3 251.4,582.9" fill="#b4b9bc"/>
<polygon points="132.8,582.5 132.8,463.7 133.1,561.2 133.8,572.1 136.0,578.6 140.4,580.7 146.9,581.4 151.2,580.3 155.5,578.6 159.9,579.7 164.2,577.5 166.8,569.9 168.5,552.6 170.1,526.5 171.6,499.2 173.1,480.6 174.4,475.8 175.5,478.8 176.6,484.9 178.3,487.5 179.4,495.8 180.9,512.9 182.4,528.1 184.1,538.3 185.9,548.4 188.5,558.6 192.4,567.7 196.7,573.2 201.1,576.4 205.4,571.0 209.7,566.7 214.1,565.6 218.4,564.5 222.7,564.5 227.1,567.7 231.4,573.2 235.7,576.4 240.1,577.5 246.6,577.5 248.3,576.8 248.6,520.0 248.9,468.4 251.4,468.4 251.4,582.9" fill="#9bdef2"/>
<polygon points="132.8,582.5 164.2,581.6 166.8,576.8 168.5,563.4 170.5,541.7 172.2,517.9 174.0,501.6 175.5,498.4 177.6,498.4 179.4,501.6 181.5,520.0 183.7,535.2 185.9,548.2 188.0,556.9 190.2,562.3 193.5,564.5 195.6,567.7 197.8,566.7 200.0,569.9 202.1,571.0 205.4,566.7 208.6,563.4 211.9,562.3 215.1,558.0 217.3,561.2 219.5,561.2 222.7,563.4 224.9,565.6 228.2,572.1 231.4,573.2 234.7,572.1 237.9,575.3 242.2,575.3 245.5,576.8 248.5,576.0 248.9,520.0 249.1,471.3 251.4,471.3 251.4,582.9" fill="#55b0cb" clip-path="url(#c1)"/>
<polyline points="132.8,582.5 164.2,581.6 166.8,576.8 168.5,563.4 170.5,541.7 172.2,517.9 174.0,501.6 175.5,498.4 177.6,498.4 179.4,501.6 181.5,520.0 183.7,535.2 185.9,548.2 188.0,556.9 190.2,562.3 193.5,564.5 195.6,567.7 197.8,566.7 200.0,569.9 202.1,571.0 205.4,566.7 208.6,563.4 211.9,562.3 215.1,558.0 217.3,561.2 219.5,561.2 222.7,563.4 224.9,565.6 228.2,572.1 231.4,573.2 234.7,572.1 237.9,575.3 242.2,575.3 245.5,576.8 248.5,576.0 248.9,520.0 249.1,471.3 251.4,471.3 251.4,582.9" fill="none" stroke="#4a6f7c" stroke-width="0.7" stroke-opacity="0.85" stroke-linejoin="round"/>
<polyline points="132.8,582.5 132.8,463.7 133.1,561.2 133.8,572.1 136.0,578.6 140.4,580.7 146.9,581.4 151.2,580.3 155.5,578.6 159.9,579.7 164.2,577.5 166.8,569.9 168.5,552.6 170.1,526.5 171.6,499.2 173.1,480.6 174.4,475.8 175.5,478.8 176.6,484.9 178.3,487.5 179.4,495.8 180.9,512.9 182.4,528.1 184.1,538.3 185.9,548.4 188.5,558.6 192.4,567.7 196.7,573.2 201.1,576.4 205.4,571.0 209.7,566.7 214.1,565.6 218.4,564.5 222.7,564.5 227.1,567.7 231.4,573.2 235.7,576.4 240.1,577.5 246.6,577.5 248.3,576.8 248.6,520.0 248.9,468.4 251.4,468.4 251.4,582.9" fill="none" stroke="#2db9e6" stroke-width="1.0" stroke-linejoin="round"/>
</g>
<path d="M132.8 464.8 V582.6" fill="none" stroke="#123" stroke-width="1.1" stroke-opacity="0.35"/>
<line x1="129.70" y1="488.60" x2="132.80" y2="488.60" stroke="#222" stroke-width="0.9"/>
<text x="0" y="0" font-size="4.8" font-weight="normal" text-anchor="end" fill="#333" transform="translate(128.20 490.30) scale(0.78 1)" stroke="#333" stroke-width="0.3">150</text>
<line x1="129.70" y1="519.40" x2="132.80" y2="519.40" stroke="#222" stroke-width="0.9"/>
<text x="0" y="0" font-size="4.8" font-weight="normal" text-anchor="end" fill="#333" transform="translate(128.20 521.10) scale(0.78 1)" stroke="#333" stroke-width="0.3">100</text>
<line x1="129.70" y1="550.40" x2="132.80" y2="550.40" stroke="#222" stroke-width="0.9"/>
<text x="0" y="0" font-size="4.8" font-weight="normal" text-anchor="end" fill="#333" transform="translate(128.20 552.10) scale(0.78 1)" stroke="#333" stroke-width="0.3">50</text>
<line x1="129.70" y1="580.80" x2="132.80" y2="580.80" stroke="#222" stroke-width="0.9"/>
<text x="0" y="0" font-size="4.8" font-weight="normal" text-anchor="end" fill="#333" transform="translate(128.20 582.50) scale(0.78 1)" stroke="#333" stroke-width="0.3">0</text>
<line x1="131.00" y1="580.80" x2="132.80" y2="580.80" stroke="#333" stroke-width="0.8"/>
<line x1="131.00" y1="574.64" x2="132.80" y2="574.64" stroke="#333" stroke-width="0.8"/>
<line x1="131.00" y1="568.48" x2="132.80" y2="568.48" stroke="#333" stroke-width="0.8"/>
<line x1="131.00" y1="562.32" x2="132.80" y2="562.32" stroke="#333" stroke-width="0.8"/>
<line x1="131.00" y1="556.16" x2="132.80" y2="556.16" stroke="#333" stroke-width="0.8"/>
<line x1="131.00" y1="550.00" x2="132.80" y2="550.00" stroke="#333" stroke-width="0.8"/>
<line x1="131.00" y1="543.84" x2="132.80" y2="543.84" stroke="#333" stroke-width="0.8"/>
<line x1="131.00" y1="537.68" x2="132.80" y2="537.68" stroke="#333" stroke-width="0.8"/>
<line x1="131.00" y1="531.52" x2="132.80" y2="531.52" stroke="#333" stroke-width="0.8"/>
<line x1="131.00" y1="525.36" x2="132.80" y2="525.36" stroke="#333" stroke-width="0.8"/>
<line x1="131.00" y1="519.20" x2="132.80" y2="519.20" stroke="#333" stroke-width="0.8"/>
<line x1="131.00" y1="513.04" x2="132.80" y2="513.04" stroke="#333" stroke-width="0.8"/>
<line x1="131.00" y1="506.88" x2="132.80" y2="506.88" stroke="#333" stroke-width="0.8"/>
<line x1="131.00" y1="500.72" x2="132.80" y2="500.72" stroke="#333" stroke-width="0.8"/>
<line x1="131.00" y1="494.56" x2="132.80" y2="494.56" stroke="#333" stroke-width="0.8"/>
<line x1="131.00" y1="488.40" x2="132.80" y2="488.40" stroke="#333" stroke-width="0.8"/>
<line x1="131.00" y1="482.24" x2="132.80" y2="482.24" stroke="#333" stroke-width="0.8"/>
<line x1="131.00" y1="476.08" x2="132.80" y2="476.08" stroke="#333" stroke-width="0.8"/>
<line x1="131.00" y1="469.92" x2="132.80" y2="469.92" stroke="#333" stroke-width="0.8"/>
<line x1="133.20" y1="582.60" x2="133.20" y2="585.60" stroke="#222" stroke-width="0.9"/>
<text x="0" y="0" font-size="4.8" font-weight="normal" text-anchor="middle" fill="#333" transform="translate(133.20 591.40) scale(0.78 1)" stroke="#333" stroke-width="0.3">0</text>
<line x1="155.50" y1="582.60" x2="155.50" y2="585.60" stroke="#222" stroke-width="0.9"/>
<text x="0" y="0" font-size="4.8" font-weight="normal" text-anchor="middle" fill="#333" transform="translate(155.50 591.40) scale(0.78 1)" stroke="#333" stroke-width="0.3">200</text>
<line x1="178.30" y1="582.60" x2="178.30" y2="585.60" stroke="#222" stroke-width="0.9"/>
<text x="0" y="0" font-size="4.8" font-weight="normal" text-anchor="middle" fill="#333" transform="translate(178.30 591.40) scale(0.78 1)" stroke="#333" stroke-width="0.3">400</text>
<line x1="201.00" y1="582.60" x2="201.00" y2="585.60" stroke="#222" stroke-width="0.9"/>
<text x="0" y="0" font-size="4.8" font-weight="normal" text-anchor="middle" fill="#333" transform="translate(201.00 591.40) scale(0.78 1)" stroke="#333" stroke-width="0.3">600</text>
<line x1="223.80" y1="582.60" x2="223.80" y2="585.60" stroke="#222" stroke-width="0.9"/>
<text x="0" y="0" font-size="4.8" font-weight="normal" text-anchor="middle" fill="#333" transform="translate(223.80 591.40) scale(0.78 1)" stroke="#333" stroke-width="0.3">800</text>
<line x1="246.60" y1="582.60" x2="246.60" y2="585.60" stroke="#222" stroke-width="0.9"/>
<text x="0" y="0" font-size="4.8" font-weight="normal" text-anchor="middle" fill="#333" transform="translate(246.60 591.40) scale(0.78 1)" stroke="#333" stroke-width="0.3">1.0K</text>
<line x1="133.20" y1="582.60" x2="133.20" y2="584.40" stroke="#333" stroke-width="0.8"/>
<line x1="138.77" y1="582.60" x2="138.77" y2="584.40" stroke="#333" stroke-width="0.8"/>
<line x1="144.35" y1="582.60" x2="144.35" y2="584.40" stroke="#333" stroke-width="0.8"/>
<line x1="149.92" y1="582.60" x2="149.92" y2="584.40" stroke="#333" stroke-width="0.8"/>
<line x1="155.50" y1="582.60" x2="155.50" y2="584.40" stroke="#333" stroke-width="0.8"/>
<line x1="161.07" y1="582.60" x2="161.07" y2="584.40" stroke="#333" stroke-width="0.8"/>
<line x1="166.65" y1="582.60" x2="166.65" y2="584.40" stroke="#333" stroke-width="0.8"/>
<line x1="172.22" y1="582.60" x2="172.22" y2="584.40" stroke="#333" stroke-width="0.8"/>
<line x1="177.80" y1="582.60" x2="177.80" y2="584.40" stroke="#333" stroke-width="0.8"/>
<line x1="183.37" y1="582.60" x2="183.37" y2="584.40" stroke="#333" stroke-width="0.8"/>
<line x1="188.95" y1="582.60" x2="188.95" y2="584.40" stroke="#333" stroke-width="0.8"/>
<line x1="194.52" y1="582.60" x2="194.52" y2="584.40" stroke="#333" stroke-width="0.8"/>
<line x1="200.10" y1="582.60" x2="200.10" y2="584.40" stroke="#333" stroke-width="0.8"/>
<line x1="205.67" y1="582.60" x2="205.67" y2="584.40" stroke="#333" stroke-width="0.8"/>
<line x1="211.25" y1="582.60" x2="211.25" y2="584.40" stroke="#333" stroke-width="0.8"/>
<line x1="216.82" y1="582.60" x2="216.82" y2="584.40" stroke="#333" stroke-width="0.8"/>
<line x1="222.40" y1="582.60" x2="222.40" y2="584.40" stroke="#333" stroke-width="0.8"/>
<line x1="227.97" y1="582.60" x2="227.97" y2="584.40" stroke="#333" stroke-width="0.8"/>
<line x1="233.55" y1="582.60" x2="233.55" y2="584.40" stroke="#333" stroke-width="0.8"/>
<line x1="239.12" y1="582.60" x2="239.12" y2="584.40" stroke="#333" stroke-width="0.8"/>
<line x1="244.70" y1="582.60" x2="244.70" y2="584.40" stroke="#333" stroke-width="0.8"/>
<line x1="250.27" y1="582.60" x2="250.27" y2="584.40" stroke="#333" stroke-width="0.8"/>
<text x="221.60" y="483.80" font-size="12.5" font-weight="bold" text-anchor="start" fill="#000">WT</text>
<text x="190.60" y="604.20" font-size="4.8" font-weight="normal" text-anchor="middle" fill="#4a4a4a" stroke="#4a4a4a" stroke-width="0.25">FL2-A</text>
<text x="109.20" y="524.00" font-size="4.7" font-weight="normal" text-anchor="middle" fill="#4a4a4a" transform="rotate(-90 109.20 524.00)" stroke="#4a4a4a" stroke-width="0.25">Count</text>
<path d="M302.5 464.1 H420.2 V581.2" fill="none" stroke="#9a9a9a" stroke-width="0.9"/>
<path d="M302.5 464.1 V581.2 H420.2" fill="none" stroke="#333" stroke-width="1.1"/>
<clipPath id="c2"><polygon points="302.5,581.4 302.5,468.0 303.0,520.0 304.3,537.4 305.8,550.4 307.9,559.1 311.2,565.6 314.4,568.8 317.7,571.0 320.9,575.3 323.1,573.2 325.3,567.7 326.8,559.1 328.5,537.4 330.3,511.4 331.8,503.1 333.3,511.4 335.0,533.0 336.8,552.6 338.3,562.3 340.5,568.8 342.6,571.0 345.9,571.6 349.1,571.0 352.4,569.9 355.6,568.8 357.8,564.5 360.0,562.3 362.1,563.0 364.3,564.5 366.5,569.9 369.7,575.3 374.1,578.1 382.7,578.6 391.4,578.1 400.1,579.0 408.8,580.1 417.4,580.3 418.5,563.4 419.6,529.8 420.2,529.8 420.2,581.4"/></clipPath>
<clipPath id="b2"><rect x="301.6" y="464.1" width="119.49999999999999" height="116.80000000000003"/></clipPath>
<g clip-path="url(#b2)">
<polygon points="302.5,581.4 303.0,552.6 304.3,563.4 306.9,573.2 310.1,577.5 314.4,578.6 318.8,579.7 323.1,578.6 325.3,572.1 326.8,556.9 328.5,526.5 330.3,489.7 332.0,471.9 333.5,478.8 335.0,502.7 336.8,537.4 338.3,556.9 339.8,565.6 342.0,571.0 344.1,569.9 346.3,571.0 349.1,569.5 352.4,568.8 355.6,567.7 357.8,563.4 360.0,561.2 362.1,561.7 364.3,564.5 366.5,569.9 369.7,575.3 374.1,578.1 382.7,579.0 391.4,578.6 397.9,579.0 400.1,579.7 408.8,580.3 417.4,580.7 420.2,581.2" fill="#b4b9bc"/>
<polygon points="302.5,581.4 302.5,468.0 303.0,520.0 304.3,537.4 305.8,550.4 307.9,559.1 311.2,565.6 314.4,568.8 317.7,571.0 320.9,575.3 323.1,573.2 325.3,567.7 326.8,559.1 328.5,537.4 330.3,511.4 331.8,503.1 333.3,511.4 335.0,533.0 336.8,552.6 338.3,562.3 340.5,568.8 342.6,571.0 345.9,571.6 349.1,571.0 352.4,569.9 355.6,568.8 357.8,564.5 360.0,562.3 362.1,563.0 364.3,564.5 366.5,569.9 369.7,575.3 374.1,578.1 382.7,578.6 391.4,578.1 400.1,579.0 408.8,580.1 417.4,580.3 418.5,563.4 419.6,529.8 420.2,529.8 420.2,581.4" fill="#9bdef2"/>
<polygon points="302.5,581.4 303.0,552.6 304.3,563.4 306.9,573.2 310.1,577.5 314.4,578.6 318.8,579.7 323.1,578.6 325.3,572.1 326.8,556.9 328.5,526.5 330.3,489.7 332.0,471.9 333.5,478.8 335.0,502.7 336.8,537.4 338.3,556.9 339.8,565.6 342.0,571.0 344.1,569.9 346.3,571.0 349.1,569.5 352.4,568.8 355.6,567.7 357.8,563.4 360.0,561.2 362.1,561.7 364.3,564.5 366.5,569.9 369.7,575.3 374.1,578.1 382.7,579.0 391.4,578.6 397.9,579.0 400.1,579.7 408.8,580.3 417.4,580.7 420.2,581.2" fill="#55b0cb" clip-path="url(#c2)"/>
<polyline points="302.5,581.4 303.0,552.6 304.3,563.4 306.9,573.2 310.1,577.5 314.4,578.6 318.8,579.7 323.1,578.6 325.3,572.1 326.8,556.9 328.5,526.5 330.3,489.7 332.0,471.9 333.5,478.8 335.0,502.7 336.8,537.4 338.3,556.9 339.8,565.6 342.0,571.0 344.1,569.9 346.3,571.0 349.1,569.5 352.4,568.8 355.6,567.7 357.8,563.4 360.0,561.2 362.1,561.7 364.3,564.5 366.5,569.9 369.7,575.3 374.1,578.1 382.7,579.0 391.4,578.6 397.9,579.0 400.1,579.7 408.8,580.3 417.4,580.7 420.2,581.2" fill="none" stroke="#4a6f7c" stroke-width="0.7" stroke-opacity="0.85" stroke-linejoin="round"/>
<polyline points="302.5,581.4 302.5,468.0 303.0,520.0 304.3,537.4 305.8,550.4 307.9,559.1 311.2,565.6 314.4,568.8 317.7,571.0 320.9,575.3 323.1,573.2 325.3,567.7 326.8,559.1 328.5,537.4 330.3,511.4 331.8,503.1 333.3,511.4 335.0,533.0 336.8,552.6 338.3,562.3 340.5,568.8 342.6,571.0 345.9,571.6 349.1,571.0 352.4,569.9 355.6,568.8 357.8,564.5 360.0,562.3 362.1,563.0 364.3,564.5 366.5,569.9 369.7,575.3 374.1,578.1 382.7,578.6 391.4,578.1 400.1,579.0 408.8,580.1 417.4,580.3 418.5,563.4 419.6,529.8 420.2,529.8 420.2,581.4" fill="none" stroke="#2db9e6" stroke-width="1.0" stroke-linejoin="round"/>
</g>
<path d="M302.5 464.1 V581.2" fill="none" stroke="#123" stroke-width="1.1" stroke-opacity="0.35"/>
<line x1="299.40" y1="472.30" x2="302.50" y2="472.30" stroke="#222" stroke-width="0.9"/>
<text x="0" y="0" font-size="4.8" font-weight="normal" text-anchor="end" fill="#333" transform="translate(297.90 474.00) scale(0.78 1)" stroke="#333" stroke-width="0.3">300</text>
<line x1="299.40" y1="508.60" x2="302.50" y2="508.60" stroke="#222" stroke-width="0.9"/>
<text x="0" y="0" font-size="4.8" font-weight="normal" text-anchor="end" fill="#333" transform="translate(297.90 510.30) scale(0.78 1)" stroke="#333" stroke-width="0.3">200</text>
<line x1="299.40" y1="544.60" x2="302.50" y2="544.60" stroke="#222" stroke-width="0.9"/>
<text x="0" y="0" font-size="4.8" font-weight="normal" text-anchor="end" fill="#333" transform="translate(297.90 546.30) scale(0.78 1)" stroke="#333" stroke-width="0.3">100</text>
<line x1="299.40" y1="580.40" x2="302.50" y2="580.40" stroke="#222" stroke-width="0.9"/>
<text x="0" y="0" font-size="4.8" font-weight="normal" text-anchor="end" fill="#333" transform="translate(297.90 582.10) scale(0.78 1)" stroke="#333" stroke-width="0.3">0</text>
<line x1="300.70" y1="580.40" x2="302.50" y2="580.40" stroke="#333" stroke-width="0.8"/>
<line x1="300.70" y1="573.14" x2="302.50" y2="573.14" stroke="#333" stroke-width="0.8"/>
<line x1="300.70" y1="565.88" x2="302.50" y2="565.88" stroke="#333" stroke-width="0.8"/>
<line x1="300.70" y1="558.62" x2="302.50" y2="558.62" stroke="#333" stroke-width="0.8"/>
<line x1="300.70" y1="551.36" x2="302.50" y2="551.36" stroke="#333" stroke-width="0.8"/>
<line x1="300.70" y1="544.10" x2="302.50" y2="544.10" stroke="#333" stroke-width="0.8"/>
<line x1="300.70" y1="536.84" x2="302.50" y2="536.84" stroke="#333" stroke-width="0.8"/>
<line x1="300.70" y1="529.58" x2="302.50" y2="529.58" stroke="#333" stroke-width="0.8"/>
<line x1="300.70" y1="522.32" x2="302.50" y2="522.32" stroke="#333" stroke-width="0.8"/>
<line x1="300.70" y1="515.06" x2="302.50" y2="515.06" stroke="#333" stroke-width="0.8"/>
<line x1="300.70" y1="507.80" x2="302.50" y2="507.80" stroke="#333" stroke-width="0.8"/>
<line x1="300.70" y1="500.54" x2="302.50" y2="500.54" stroke="#333" stroke-width="0.8"/>
<line x1="300.70" y1="493.28" x2="302.50" y2="493.28" stroke="#333" stroke-width="0.8"/>
<line x1="300.70" y1="486.02" x2="302.50" y2="486.02" stroke="#333" stroke-width="0.8"/>
<line x1="300.70" y1="478.76" x2="302.50" y2="478.76" stroke="#333" stroke-width="0.8"/>
<line x1="300.70" y1="471.50" x2="302.50" y2="471.50" stroke="#333" stroke-width="0.8"/>
<line x1="302.50" y1="581.20" x2="302.50" y2="584.20" stroke="#222" stroke-width="0.9"/>
<text x="0" y="0" font-size="4.8" font-weight="normal" text-anchor="middle" fill="#333" transform="translate(302.50 591.00) scale(0.78 1)" stroke="#333" stroke-width="0.3">0</text>
<line x1="325.30" y1="581.20" x2="325.30" y2="584.20" stroke="#222" stroke-width="0.9"/>
<text x="0" y="0" font-size="4.8" font-weight="normal" text-anchor="middle" fill="#333" transform="translate(325.30 591.00) scale(0.78 1)" stroke="#333" stroke-width="0.3">200</text>
<line x1="348.00" y1="581.20" x2="348.00" y2="584.20" stroke="#222" stroke-width="0.9"/>
<text x="0" y="0" font-size="4.8" font-weight="normal" text-anchor="middle" fill="#333" transform="translate(348.00 591.00) scale(0.78 1)" stroke="#333" stroke-width="0.3">400</text>
<line x1="370.80" y1="581.20" x2="370.80" y2="584.20" stroke="#222" stroke-width="0.9"/>
<text x="0" y="0" font-size="4.8" font-weight="normal" text-anchor="middle" fill="#333" transform="translate(370.80 591.00) scale(0.78 1)" stroke="#333" stroke-width="0.3">600</text>
<line x1="393.60" y1="581.20" x2="393.60" y2="584.20" stroke="#222" stroke-width="0.9"/>
<text x="0" y="0" font-size="4.8" font-weight="normal" text-anchor="middle" fill="#333" transform="translate(393.60 591.00) scale(0.78 1)" stroke="#333" stroke-width="0.3">800</text>
<line x1="416.80" y1="581.20" x2="416.80" y2="584.20" stroke="#222" stroke-width="0.9"/>
<text x="0" y="0" font-size="4.8" font-weight="normal" text-anchor="middle" fill="#333" transform="translate(416.80 591.00) scale(0.78 1)" stroke="#333" stroke-width="0.3">1.0K</text>
<line x1="302.50" y1="581.20" x2="302.50" y2="583.00" stroke="#333" stroke-width="0.8"/>
<line x1="308.20" y1="581.20" x2="308.20" y2="583.00" stroke="#333" stroke-width="0.8"/>
<line x1="313.90" y1="581.20" x2="313.90" y2="583.00" stroke="#333" stroke-width="0.8"/>
<line x1="319.60" y1="581.20" x2="319.60" y2="583.00" stroke="#333" stroke-width="0.8"/>
<line x1="325.30" y1="581.20" x2="325.30" y2="583.00" stroke="#333" stroke-width="0.8"/>
<line x1="331.00" y1="581.20" x2="331.00" y2="583.00" stroke="#333" stroke-width="0.8"/>
<line x1="336.70" y1="581.20" x2="336.70" y2="583.00" stroke="#333" stroke-width="0.8"/>
<line x1="342.40" y1="581.20" x2="342.40" y2="583.00" stroke="#333" stroke-width="0.8"/>
<line x1="348.10" y1="581.20" x2="348.10" y2="583.00" stroke="#333" stroke-width="0.8"/>
<line x1="353.80" y1="581.20" x2="353.80" y2="583.00" stroke="#333" stroke-width="0.8"/>
<line x1="359.50" y1="581.20" x2="359.50" y2="583.00" stroke="#333" stroke-width="0.8"/>
<line x1="365.20" y1="581.20" x2="365.20" y2="583.00" stroke="#333" stroke-width="0.8"/>
<line x1="370.90" y1="581.20" x2="370.90" y2="583.00" stroke="#333" stroke-width="0.8"/>
<line x1="376.60" y1="581.20" x2="376.60" y2="583.00" stroke="#333" stroke-width="0.8"/>
<line x1="382.30" y1="581.20" x2="382.30" y2="583.00" stroke="#333" stroke-width="0.8"/>
<line x1="388.00" y1="581.20" x2="388.00" y2="583.00" stroke="#333" stroke-width="0.8"/>
<line x1="393.70" y1="581.20" x2="393.70" y2="583.00" stroke="#333" stroke-width="0.8"/>
<line x1="399.40" y1="581.20" x2="399.40" y2="583.00" stroke="#333" stroke-width="0.8"/>
<line x1="405.10" y1="581.20" x2="405.10" y2="583.00" stroke="#333" stroke-width="0.8"/>
<line x1="410.80" y1="581.20" x2="410.80" y2="583.00" stroke="#333" stroke-width="0.8"/>
<line x1="416.50" y1="581.20" x2="416.50" y2="583.00" stroke="#333" stroke-width="0.8"/>
<text x="371.40" y="483.30" font-size="12.5" font-weight="bold" text-anchor="start" fill="#000">p21KO</text>
<text x="360.00" y="603.80" font-size="4.8" font-weight="normal" text-anchor="middle" fill="#4a4a4a" stroke="#4a4a4a" stroke-width="0.25">FL2-A</text>
<text x="278.90" y="523.30" font-size="4.7" font-weight="normal" text-anchor="middle" fill="#4a4a4a" transform="rotate(-90 278.90 523.30)" stroke="#4a4a4a" stroke-width="0.25">Count</text>
<path d="M126 853 H247 V971.4" fill="none" stroke="#9a9a9a" stroke-width="0.9"/>
<path d="M126 853 V971.4 H247" fill="none" stroke="#333" stroke-width="1.1"/>
<clipPath id="c3"><polygon points="126.0,971.4 126.4,961.0 127.5,962.1 129.3,968.6 132.5,971.4 152.1,971.5 153.3,968.5 154.5,961.2 155.7,946.8 156.9,922.6 158.1,891.2 159.0,869.5 159.7,862.5 160.3,867.1 160.9,885.2 161.7,915.4 162.7,941.9 163.5,955.2 164.7,962.4 166.0,966.7 167.2,969.1 169.0,970.3 173.8,971.1 181.0,971.1 183.5,969.7 185.9,966.7 188.3,963.7 190.1,962.4 191.9,962.2 193.7,963.7 195.5,966.7 198.0,969.7 200.0,971.1 201.9,971.4 212.7,971.4 217.1,970.7 221.4,970.3 225.7,971.2 247.0,971.4"/></clipPath>
<clipPath id="b3"><rect x="125.1" y="853" width="122.8" height="118.09999999999998"/></clipPath>
<g clip-path="url(#b3)">
<polygon points="154.2,971.5 155.1,963.7 155.9,946.8 156.9,925.0 157.7,908.1 158.4,902.7 159.1,908.1 159.9,922.6 160.8,937.1 161.7,948.0 162.9,955.2 164.1,959.4 166.0,963.7 168.4,966.7 171.4,966.7 173.8,966.1 176.2,967.3 178.6,967.5 181.0,966.7 183.5,963.7 185.3,960.0 187.1,955.2 188.9,952.2 190.1,953.4 191.3,957.0 192.5,961.2 194.3,966.1 196.1,969.1 198.0,970.3 200.0,970.9 204.1,971.2 212.7,970.7 218.2,969.7 222.5,969.2 225.7,970.7 234.4,971.4 244.2,971.4 245.7,966.4 247.0,963.2 247.0,971.4" fill="#c8ccce"/>
<polygon points="126.0,971.4 126.4,961.0 127.5,962.1 129.3,968.6 132.5,971.4 152.1,971.5 153.3,968.5 154.5,961.2 155.7,946.8 156.9,922.6 158.1,891.2 159.0,869.5 159.7,862.5 160.3,867.1 160.9,885.2 161.7,915.4 162.7,941.9 163.5,955.2 164.7,962.4 166.0,966.7 167.2,969.1 169.0,970.3 173.8,971.1 181.0,971.1 183.5,969.7 185.9,966.7 188.3,963.7 190.1,962.4 191.9,962.2 193.7,963.7 195.5,966.7 198.0,969.7 200.0,971.1 201.9,971.4 212.7,971.4 217.1,970.7 221.4,970.3 225.7,971.2 247.0,971.4" fill="#a0e1f4"/>
<polygon points="154.2,971.5 155.1,963.7 155.9,946.8 156.9,925.0 157.7,908.1 158.4,902.7 159.1,908.1 159.9,922.6 160.8,937.1 161.7,948.0 162.9,955.2 164.1,959.4 166.0,963.7 168.4,966.7 171.4,966.7 173.8,966.1 176.2,967.3 178.6,967.5 181.0,966.7 183.5,963.7 185.3,960.0 187.1,955.2 188.9,952.2 190.1,953.4 191.3,957.0 192.5,961.2 194.3,966.1 196.1,969.1 198.0,970.3 200.0,970.9 204.1,971.2 212.7,970.7 218.2,969.7 222.5,969.2 225.7,970.7 234.4,971.4 244.2,971.4 245.7,966.4 247.0,963.2 247.0,971.4" fill="#76c7e0" clip-path="url(#c3)"/>
<polyline points="154.2,971.5 155.1,963.7 155.9,946.8 156.9,925.0 157.7,908.1 158.4,902.7 159.1,908.1 159.9,922.6 160.8,937.1 161.7,948.0 162.9,955.2 164.1,959.4 166.0,963.7 168.4,966.7 171.4,966.7 173.8,966.1 176.2,967.3 178.6,967.5 181.0,966.7 183.5,963.7 185.3,960.0 187.1,955.2 188.9,952.2 190.1,953.4 191.3,957.0 192.5,961.2 194.3,966.1 196.1,969.1 198.0,970.3 200.0,970.9 204.1,971.2 212.7,970.7 218.2,969.7 222.5,969.2 225.7,970.7 234.4,971.4 244.2,971.4 245.7,966.4 247.0,963.2 247.0,971.4" fill="none" stroke="#6d8f9c" stroke-width="0.7" stroke-opacity="0.85" stroke-linejoin="round"/>
<polyline points="126.0,971.4 126.4,961.0 127.5,962.1 129.3,968.6 132.5,971.4 152.1,971.5 153.3,968.5 154.5,961.2 155.7,946.8 156.9,922.6 158.1,891.2 159.0,869.5 159.7,862.5 160.3,867.1 160.9,885.2 161.7,915.4 162.7,941.9 163.5,955.2 164.7,962.4 166.0,966.7 167.2,969.1 169.0,970.3 173.8,971.1 181.0,971.1 183.5,969.7 185.9,966.7 188.3,963.7 190.1,962.4 191.9,962.2 193.7,963.7 195.5,966.7 198.0,969.7 200.0,971.1 201.9,971.4 212.7,971.4 217.1,970.7 221.4,970.3 225.7,971.2 247.0,971.4" fill="none" stroke="#2bbbe8" stroke-width="1.0" stroke-linejoin="round"/>
</g>
<path d="M126 853 V971.4" fill="none" stroke="#123" stroke-width="1.1" stroke-opacity="0.35"/>
<line x1="122.90" y1="876.40" x2="126.00" y2="876.40" stroke="#222" stroke-width="0.9"/>
<text x="0" y="0" font-size="4.8" font-weight="normal" text-anchor="end" fill="#333" transform="translate(121.40 878.10) scale(0.78 1)" stroke="#333" stroke-width="0.3">600</text>
<line x1="122.90" y1="908.30" x2="126.00" y2="908.30" stroke="#222" stroke-width="0.9"/>
<text x="0" y="0" font-size="4.8" font-weight="normal" text-anchor="end" fill="#333" transform="translate(121.40 910.00) scale(0.78 1)" stroke="#333" stroke-width="0.3">400</text>
<line x1="122.90" y1="939.70" x2="126.00" y2="939.70" stroke="#222" stroke-width="0.9"/>
<text x="0" y="0" font-size="4.8" font-weight="normal" text-anchor="end" fill="#333" transform="translate(121.40 941.40) scale(0.78 1)" stroke="#333" stroke-width="0.3">200</text>
<line x1="122.90" y1="970.80" x2="126.00" y2="970.80" stroke="#222" stroke-width="0.9"/>
<text x="0" y="0" font-size="4.8" font-weight="normal" text-anchor="end" fill="#333" transform="translate(121.40 972.50) scale(0.78 1)" stroke="#333" stroke-width="0.3">0</text>
<line x1="124.20" y1="970.80" x2="126.00" y2="970.80" stroke="#333" stroke-width="0.8"/>
<line x1="124.20" y1="964.42" x2="126.00" y2="964.42" stroke="#333" stroke-width="0.8"/>
<line x1="124.20" y1="958.04" x2="126.00" y2="958.04" stroke="#333" stroke-width="0.8"/>
<line x1="124.20" y1="951.66" x2="126.00" y2="951.66" stroke="#333" stroke-width="0.8"/>
<line x1="124.20" y1="945.28" x2="126.00" y2="945.28" stroke="#333" stroke-width="0.8"/>
<line x1="124.20" y1="938.90" x2="126.00" y2="938.90" stroke="#333" stroke-width="0.8"/>
<line x1="124.20" y1="932.52" x2="126.00" y2="932.52" stroke="#333" stroke-width="0.8"/>
<line x1="124.20" y1="926.14" x2="126.00" y2="926.14" stroke="#333" stroke-width="0.8"/>
<line x1="124.20" y1="919.76" x2="126.00" y2="919.76" stroke="#333" stroke-width="0.8"/>
<line x1="124.20" y1="913.38" x2="126.00" y2="913.38" stroke="#333" stroke-width="0.8"/>
<line x1="124.20" y1="907.00" x2="126.00" y2="907.00" stroke="#333" stroke-width="0.8"/>
<line x1="124.20" y1="900.62" x2="126.00" y2="900.62" stroke="#333" stroke-width="0.8"/>
<line x1="124.20" y1="894.24" x2="126.00" y2="894.24" stroke="#333" stroke-width="0.8"/>
<line x1="124.20" y1="887.86" x2="126.00" y2="887.86" stroke="#333" stroke-width="0.8"/>
<line x1="124.20" y1="881.48" x2="126.00" y2="881.48" stroke="#333" stroke-width="0.8"/>
<line x1="124.20" y1="875.10" x2="126.00" y2="875.10" stroke="#333" stroke-width="0.8"/>
<line x1="124.20" y1="868.72" x2="126.00" y2="868.72" stroke="#333" stroke-width="0.8"/>
<line x1="124.20" y1="862.34" x2="126.00" y2="862.34" stroke="#333" stroke-width="0.8"/>
<line x1="124.20" y1="855.96" x2="126.00" y2="855.96" stroke="#333" stroke-width="0.8"/>
<line x1="126.50" y1="971.40" x2="126.50" y2="974.40" stroke="#222" stroke-width="0.9"/>
<text x="0" y="0" font-size="4.8" font-weight="normal" text-anchor="middle" fill="#333" transform="translate(126.50 981.00) scale(0.78 1)" stroke="#333" stroke-width="0.3">0</text>
<line x1="149.40" y1="971.40" x2="149.40" y2="974.40" stroke="#222" stroke-width="0.9"/>
<text x="0" y="0" font-size="4.8" font-weight="normal" text-anchor="middle" fill="#333" transform="translate(149.40 981.00) scale(0.78 1)" stroke="#333" stroke-width="0.3">200</text>
<line x1="172.60" y1="971.40" x2="172.60" y2="974.40" stroke="#222" stroke-width="0.9"/>
<text x="0" y="0" font-size="4.8" font-weight="normal" text-anchor="middle" fill="#333" transform="translate(172.60 981.00) scale(0.78 1)" stroke="#333" stroke-width="0.3">400</text>
<line x1="195.80" y1="971.40" x2="195.80" y2="974.40" stroke="#222" stroke-width="0.9"/>
<text x="0" y="0" font-size="4.8" font-weight="normal" text-anchor="middle" fill="#333" transform="translate(195.80 981.00) scale(0.78 1)" stroke="#333" stroke-width="0.3">600</text>
<line x1="218.80" y1="971.40" x2="218.80" y2="974.40" stroke="#222" stroke-width="0.9"/>
<text x="0" y="0" font-size="4.8" font-weight="normal" text-anchor="middle" fill="#333" transform="translate(218.80 981.00) scale(0.78 1)" stroke="#333" stroke-width="0.3">800</text>
<line x1="242.40" y1="971.40" x2="242.40" y2="974.40" stroke="#222" stroke-width="0.9"/>
<text x="0" y="0" font-size="4.8" font-weight="normal" text-anchor="middle" fill="#333" transform="translate(242.40 981.00) scale(0.78 1)" stroke="#333" stroke-width="0.3">1.0K</text>
<line x1="126.50" y1="971.40" x2="126.50" y2="973.20" stroke="#333" stroke-width="0.8"/>
<line x1="132.22" y1="971.40" x2="132.22" y2="973.20" stroke="#333" stroke-width="0.8"/>
<line x1="137.95" y1="971.40" x2="137.95" y2="973.20" stroke="#333" stroke-width="0.8"/>
<line x1="143.67" y1="971.40" x2="143.67" y2="973.20" stroke="#333" stroke-width="0.8"/>
<line x1="149.40" y1="971.40" x2="149.40" y2="973.20" stroke="#333" stroke-width="0.8"/>
<line x1="155.12" y1="971.40" x2="155.12" y2="973.20" stroke="#333" stroke-width="0.8"/>
<line x1="160.85" y1="971.40" x2="160.85" y2="973.20" stroke="#333" stroke-width="0.8"/>
<line x1="166.57" y1="971.40" x2="166.57" y2="973.20" stroke="#333" stroke-width="0.8"/>
<line x1="172.30" y1="971.40" x2="172.30" y2="973.20" stroke="#333" stroke-width="0.8"/>
<line x1="178.02" y1="971.40" x2="178.02" y2="973.20" stroke="#333" stroke-width="0.8"/>
<line x1="183.75" y1="971.40" x2="183.75" y2="973.20" stroke="#333" stroke-width="0.8"/>
<line x1="189.47" y1="971.40" x2="189.47" y2="973.20" stroke="#333" stroke-width="0.8"/>
<line x1="195.20" y1="971.40" x2="195.20" y2="973.20" stroke="#333" stroke-width="0.8"/>
<line x1="200.92" y1="971.40" x2="200.92" y2="973.20" stroke="#333" stroke-width="0.8"/>
<line x1="206.65" y1="971.40" x2="206.65" y2="973.20" stroke="#333" stroke-width="0.8"/>
<line x1="212.37" y1="971.40" x2="212.37" y2="973.20" stroke="#333" stroke-width="0.8"/>
<line x1="218.10" y1="971.40" x2="218.10" y2="973.20" stroke="#333" stroke-width="0.8"/>
<line x1="223.82" y1="971.40" x2="223.82" y2="973.20" stroke="#333" stroke-width="0.8"/>
<line x1="229.55" y1="971.40" x2="229.55" y2="973.20" stroke="#333" stroke-width="0.8"/>
<line x1="235.27" y1="971.40" x2="235.27" y2="973.20" stroke="#333" stroke-width="0.8"/>
<line x1="241.00" y1="971.40" x2="241.00" y2="973.20" stroke="#333" stroke-width="0.8"/>
<line x1="246.72" y1="971.40" x2="246.72" y2="973.20" stroke="#333" stroke-width="0.8"/>
<text x="219.80" y="870.60" font-size="12.5" font-weight="bold" text-anchor="start" fill="#000">WT</text>
<text x="185.00" y="993.80" font-size="4.8" font-weight="normal" text-anchor="middle" fill="#4a4a4a" stroke="#4a4a4a" stroke-width="0.25">PI-A</text>
<text x="102.70" y="912.00" font-size="4.7" font-weight="normal" text-anchor="middle" fill="#4a4a4a" transform="rotate(-90 102.70 912.00)" stroke="#4a4a4a" stroke-width="0.25">Count</text>
<path d="M295.8 852.6 H416.6 V971.4" fill="none" stroke="#9a9a9a" stroke-width="0.9"/>
<path d="M295.8 852.6 V971.4 H416.6" fill="none" stroke="#333" stroke-width="1.1"/>
<clipPath id="c4"><polygon points="295.8,971.4 322.1,971.5 323.3,968.5 324.2,957.6 325.1,933.5 325.9,903.3 326.9,876.7 327.5,870.7 328.1,879.1 329.0,909.3 329.9,939.5 330.8,954.0 331.7,960.0 333.5,963.1 336.6,964.3 340.2,964.3 343.8,963.7 347.4,963.7 350.4,963.1 352.3,960.0 354.1,954.0 355.9,947.4 357.7,944.9 358.9,944.9 360.1,948.0 361.3,955.2 362.5,961.8 364.1,966.7 366.1,969.1 370.0,970.3 368.4,970.3 377.1,970.7 383.6,969.7 387.9,968.6 391.2,968.1 394.4,969.7 398.8,971.2 411.8,971.2 415.0,970.3 416.1,962.1 416.5,962.1 416.5,971.4"/></clipPath>
<clipPath id="b4"><rect x="294.90000000000003" y="852.6" width="122.60000000000001" height="118.49999999999996"/></clipPath>
<g clip-path="url(#b4)">
<polygon points="322.7,971.5 323.9,963.7 324.7,939.5 325.7,906.9 326.7,874.3 327.4,863.5 328.1,875.5 329.0,906.9 329.9,938.3 330.8,952.8 331.7,959.4 332.9,961.8 334.1,961.0 336.0,963.1 339.0,964.0 342.0,963.7 344.4,962.4 346.2,963.4 349.8,962.7 351.7,960.0 353.5,953.4 355.3,945.5 356.8,940.7 357.7,940.1 358.5,942.5 359.5,946.8 360.7,955.2 361.9,961.8 363.7,967.3 365.5,969.5 370.0,970.7 370.6,970.3 377.1,970.3 383.6,968.6 387.9,967.5 390.1,967.5 393.3,969.0 397.7,970.7 411.8,970.7 414.4,968.6 415.7,962.1 416.5,958.8 416.5,971.4" fill="#c8ccce"/>
<polygon points="295.8,971.4 322.1,971.5 323.3,968.5 324.2,957.6 325.1,933.5 325.9,903.3 326.9,876.7 327.5,870.7 328.1,879.1 329.0,909.3 329.9,939.5 330.8,954.0 331.7,960.0 333.5,963.1 336.6,964.3 340.2,964.3 343.8,963.7 347.4,963.7 350.4,963.1 352.3,960.0 354.1,954.0 355.9,947.4 357.7,944.9 358.9,944.9 360.1,948.0 361.3,955.2 362.5,961.8 364.1,966.7 366.1,969.1 370.0,970.3 368.4,970.3 377.1,970.7 383.6,969.7 387.9,968.6 391.2,968.1 394.4,969.7 398.8,971.2 411.8,971.2 415.0,970.3 416.1,962.1 416.5,962.1 416.5,971.4" fill="#a0e1f4"/>
<polygon points="322.7,971.5 323.9,963.7 324.7,939.5 325.7,906.9 326.7,874.3 327.4,863.5 328.1,875.5 329.0,906.9 329.9,938.3 330.8,952.8 331.7,959.4 332.9,961.8 334.1,961.0 336.0,963.1 339.0,964.0 342.0,963.7 344.4,962.4 346.2,963.4 349.8,962.7 351.7,960.0 353.5,953.4 355.3,945.5 356.8,940.7 357.7,940.1 358.5,942.5 359.5,946.8 360.7,955.2 361.9,961.8 363.7,967.3 365.5,969.5 370.0,970.7 370.6,970.3 377.1,970.3 383.6,968.6 387.9,967.5 390.1,967.5 393.3,969.0 397.7,970.7 411.8,970.7 414.4,968.6 415.7,962.1 416.5,958.8 416.5,971.4" fill="#76c7e0" clip-path="url(#c4)"/>
<polyline points="322.7,971.5 323.9,963.7 324.7,939.5 325.7,906.9 326.7,874.3 327.4,863.5 328.1,875.5 329.0,906.9 329.9,938.3 330.8,952.8 331.7,959.4 332.9,961.8 334.1,961.0 336.0,963.1 339.0,964.0 342.0,963.7 344.4,962.4 346.2,963.4 349.8,962.7 351.7,960.0 353.5,953.4 355.3,945.5 356.8,940.7 357.7,940.1 358.5,942.5 359.5,946.8 360.7,955.2 361.9,961.8 363.7,967.3 365.5,969.5 370.0,970.7 370.6,970.3 377.1,970.3 383.6,968.6 387.9,967.5 390.1,967.5 393.3,969.0 397.7,970.7 411.8,970.7 414.4,968.6 415.7,962.1 416.5,958.8 416.5,971.4" fill="none" stroke="#6d8f9c" stroke-width="0.7" stroke-opacity="0.85" stroke-linejoin="round"/>
<polyline points="295.8,971.4 322.1,971.5 323.3,968.5 324.2,957.6 325.1,933.5 325.9,903.3 326.9,876.7 327.5,870.7 328.1,879.1 329.0,909.3 329.9,939.5 330.8,954.0 331.7,960.0 333.5,963.1 336.6,964.3 340.2,964.3 343.8,963.7 347.4,963.7 350.4,963.1 352.3,960.0 354.1,954.0 355.9,947.4 357.7,944.9 358.9,944.9 360.1,948.0 361.3,955.2 362.5,961.8 364.1,966.7 366.1,969.1 370.0,970.3 368.4,970.3 377.1,970.7 383.6,969.7 387.9,968.6 391.2,968.1 394.4,969.7 398.8,971.2 411.8,971.2 415.0,970.3 416.1,962.1 416.5,962.1 416.5,971.4" fill="none" stroke="#2bbbe8" stroke-width="1.0" stroke-linejoin="round"/>
</g>
<path d="M295.8 852.6 V971.4" fill="none" stroke="#123" stroke-width="1.1" stroke-opacity="0.35"/>
<line x1="292.70" y1="853.70" x2="295.80" y2="853.70" stroke="#222" stroke-width="0.9"/>
<text x="0" y="0" font-size="4.8" font-weight="normal" text-anchor="end" fill="#333" transform="translate(291.20 855.40) scale(0.78 1)" stroke="#333" stroke-width="0.3">600</text>
<line x1="292.70" y1="893.20" x2="295.80" y2="893.20" stroke="#222" stroke-width="0.9"/>
<text x="0" y="0" font-size="4.8" font-weight="normal" text-anchor="end" fill="#333" transform="translate(291.20 894.90) scale(0.78 1)" stroke="#333" stroke-width="0.3">400</text>
<line x1="292.70" y1="932.20" x2="295.80" y2="932.20" stroke="#222" stroke-width="0.9"/>
<text x="0" y="0" font-size="4.8" font-weight="normal" text-anchor="end" fill="#333" transform="translate(291.20 933.90) scale(0.78 1)" stroke="#333" stroke-width="0.3">200</text>
<line x1="292.70" y1="970.80" x2="295.80" y2="970.80" stroke="#222" stroke-width="0.9"/>
<text x="0" y="0" font-size="4.8" font-weight="normal" text-anchor="end" fill="#333" transform="translate(291.20 972.50) scale(0.78 1)" stroke="#333" stroke-width="0.3">0</text>
<line x1="294.00" y1="970.80" x2="295.80" y2="970.80" stroke="#333" stroke-width="0.8"/>
<line x1="294.00" y1="962.90" x2="295.80" y2="962.90" stroke="#333" stroke-width="0.8"/>
<line x1="294.00" y1="955.00" x2="295.80" y2="955.00" stroke="#333" stroke-width="0.8"/>
<line x1="294.00" y1="947.10" x2="295.80" y2="947.10" stroke="#333" stroke-width="0.8"/>
<line x1="294.00" y1="939.20" x2="295.80" y2="939.20" stroke="#333" stroke-width="0.8"/>
<line x1="294.00" y1="931.30" x2="295.80" y2="931.30" stroke="#333" stroke-width="0.8"/>
<line x1="294.00" y1="923.40" x2="295.80" y2="923.40" stroke="#333" stroke-width="0.8"/>
<line x1="294.00" y1="915.50" x2="295.80" y2="915.50" stroke="#333" stroke-width="0.8"/>
<line x1="294.00" y1="907.60" x2="295.80" y2="907.60" stroke="#333" stroke-width="0.8"/>
<line x1="294.00" y1="899.70" x2="295.80" y2="899.70" stroke="#333" stroke-width="0.8"/>
<line x1="294.00" y1="891.80" x2="295.80" y2="891.80" stroke="#333" stroke-width="0.8"/>
<line x1="294.00" y1="883.90" x2="295.80" y2="883.90" stroke="#333" stroke-width="0.8"/>
<line x1="294.00" y1="876.00" x2="295.80" y2="876.00" stroke="#333" stroke-width="0.8"/>
<line x1="294.00" y1="868.10" x2="295.80" y2="868.10" stroke="#333" stroke-width="0.8"/>
<line x1="294.00" y1="860.20" x2="295.80" y2="860.20" stroke="#333" stroke-width="0.8"/>
<line x1="296.20" y1="971.40" x2="296.20" y2="974.40" stroke="#222" stroke-width="0.9"/>
<text x="0" y="0" font-size="4.8" font-weight="normal" text-anchor="middle" fill="#333" transform="translate(296.20 981.00) scale(0.78 1)" stroke="#333" stroke-width="0.3">0</text>
<line x1="319.20" y1="971.40" x2="319.20" y2="974.40" stroke="#222" stroke-width="0.9"/>
<text x="0" y="0" font-size="4.8" font-weight="normal" text-anchor="middle" fill="#333" transform="translate(319.20 981.00) scale(0.78 1)" stroke="#333" stroke-width="0.3">200</text>
<line x1="342.40" y1="971.40" x2="342.40" y2="974.40" stroke="#222" stroke-width="0.9"/>
<text x="0" y="0" font-size="4.8" font-weight="normal" text-anchor="middle" fill="#333" transform="translate(342.40 981.00) scale(0.78 1)" stroke="#333" stroke-width="0.3">400</text>
<line x1="365.60" y1="971.40" x2="365.60" y2="974.40" stroke="#222" stroke-width="0.9"/>
<text x="0" y="0" font-size="4.8" font-weight="normal" text-anchor="middle" fill="#333" transform="translate(365.60 981.00) scale(0.78 1)" stroke="#333" stroke-width="0.3">600</text>
<line x1="389.00" y1="971.40" x2="389.00" y2="974.40" stroke="#222" stroke-width="0.9"/>
<text x="0" y="0" font-size="4.8" font-weight="normal" text-anchor="middle" fill="#333" transform="translate(389.00 981.00) scale(0.78 1)" stroke="#333" stroke-width="0.3">800</text>
<line x1="412.50" y1="971.40" x2="412.50" y2="974.40" stroke="#222" stroke-width="0.9"/>
<text x="0" y="0" font-size="4.8" font-weight="normal" text-anchor="middle" fill="#333" transform="translate(412.50 981.00) scale(0.78 1)" stroke="#333" stroke-width="0.3">1.0K</text>
<line x1="296.20" y1="971.40" x2="296.20" y2="973.20" stroke="#333" stroke-width="0.8"/>
<line x1="301.95" y1="971.40" x2="301.95" y2="973.20" stroke="#333" stroke-width="0.8"/>
<line x1="307.70" y1="971.40" x2="307.70" y2="973.20" stroke="#333" stroke-width="0.8"/>
<line x1="313.45" y1="971.40" x2="313.45" y2="973.20" stroke="#333" stroke-width="0.8"/>
<line x1="319.20" y1="971.40" x2="319.20" y2="973.20" stroke="#333" stroke-width="0.8"/>
<line x1="324.95" y1="971.40" x2="324.95" y2="973.20" stroke="#333" stroke-width="0.8"/>
<line x1="330.70" y1="971.40" x2="330.70" y2="973.20" stroke="#333" stroke-width="0.8"/>
<line x1="336.45" y1="971.40" x2="336.45" y2="973.20" stroke="#333" stroke-width="0.8"/>
<line x1="342.20" y1="971.40" x2="342.20" y2="973.20" stroke="#333" stroke-width="0.8"/>
<line x1="347.95" y1="971.40" x2="347.95" y2="973.20" stroke="#333" stroke-width="0.8"/>
<line x1="353.70" y1="971.40" x2="353.70" y2="973.20" stroke="#333" stroke-width="0.8"/>
<line x1="359.45" y1="971.40" x2="359.45" y2="973.20" stroke="#333" stroke-width="0.8"/>
<line x1="365.20" y1="971.40" x2="365.20" y2="973.20" stroke="#333" stroke-width="0.8"/>
<line x1="370.95" y1="971.40" x2="370.95" y2="973.20" stroke="#333" stroke-width="0.8"/>
<line x1="376.70" y1="971.40" x2="376.70" y2="973.20" stroke="#333" stroke-width="0.8"/>
<line x1="382.45" y1="971.40" x2="382.45" y2="973.20" stroke="#333" stroke-width="0.8"/>
<line x1="388.20" y1="971.40" x2="388.20" y2="973.20" stroke="#333" stroke-width="0.8"/>
<line x1="393.95" y1="971.40" x2="393.95" y2="973.20" stroke="#333" stroke-width="0.8"/>
<line x1="399.70" y1="971.40" x2="399.70" y2="973.20" stroke="#333" stroke-width="0.8"/>
<line x1="405.45" y1="971.40" x2="405.45" y2="973.20" stroke="#333" stroke-width="0.8"/>
<line x1="411.20" y1="971.40" x2="411.20" y2="973.20" stroke="#333" stroke-width="0.8"/>
<text x="369.00" y="870.40" font-size="12.5" font-weight="bold" text-anchor="start" fill="#000">p21KO</text>
<text x="355.40" y="993.80" font-size="4.8" font-weight="normal" text-anchor="middle" fill="#4a4a4a" stroke="#4a4a4a" stroke-width="0.25">PI-A</text>
<text x="271.50" y="912.00" font-size="4.7" font-weight="normal" text-anchor="middle" fill="#4a4a4a" transform="rotate(-90 271.50 912.00)" stroke="#4a4a4a" stroke-width="0.25">Count</text>
</svg>
</body></html>
